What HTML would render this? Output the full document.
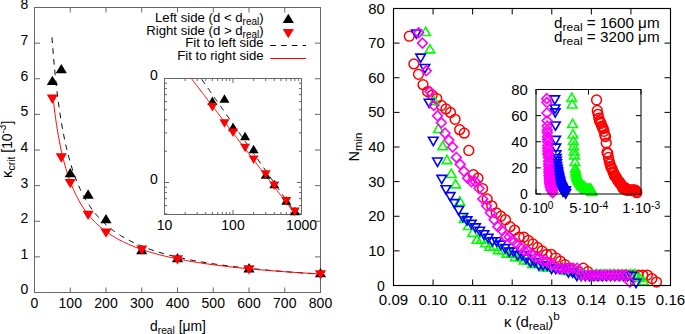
<!DOCTYPE html><html><head><meta charset="utf-8"><style>html,body{margin:0;padding:0;background:#fff;}svg{display:block;}</style></head><body><svg width="685" height="334" viewBox="0 0 685 334" font-family='"Liberation Sans", sans-serif'>
<rect width="685" height="334" fill="#fff"/>
<rect x="34.5" y="7.5" width="286.0" height="285.0" fill="none" stroke="#666" stroke-width="1.0"/>
<line x1="34.50" y1="292.50" x2="34.50" y2="287.50" stroke="#666" stroke-width="1.0" />
<line x1="34.50" y1="7.50" x2="34.50" y2="12.50" stroke="#666" stroke-width="1.0" />
<text x="34.50" y="307.50" font-size="14" text-anchor="middle" fill="#000" >0</text>
<line x1="70.25" y1="292.50" x2="70.25" y2="287.50" stroke="#666" stroke-width="1.0" />
<line x1="70.25" y1="7.50" x2="70.25" y2="12.50" stroke="#666" stroke-width="1.0" />
<text x="70.25" y="307.50" font-size="14" text-anchor="middle" fill="#000" >100</text>
<line x1="106.00" y1="292.50" x2="106.00" y2="287.50" stroke="#666" stroke-width="1.0" />
<line x1="106.00" y1="7.50" x2="106.00" y2="12.50" stroke="#666" stroke-width="1.0" />
<text x="106.00" y="307.50" font-size="14" text-anchor="middle" fill="#000" >200</text>
<line x1="141.75" y1="292.50" x2="141.75" y2="287.50" stroke="#666" stroke-width="1.0" />
<line x1="141.75" y1="7.50" x2="141.75" y2="12.50" stroke="#666" stroke-width="1.0" />
<text x="141.75" y="307.50" font-size="14" text-anchor="middle" fill="#000" >300</text>
<line x1="177.50" y1="292.50" x2="177.50" y2="287.50" stroke="#666" stroke-width="1.0" />
<line x1="177.50" y1="7.50" x2="177.50" y2="12.50" stroke="#666" stroke-width="1.0" />
<text x="177.50" y="307.50" font-size="14" text-anchor="middle" fill="#000" >400</text>
<line x1="213.25" y1="292.50" x2="213.25" y2="287.50" stroke="#666" stroke-width="1.0" />
<line x1="213.25" y1="7.50" x2="213.25" y2="12.50" stroke="#666" stroke-width="1.0" />
<text x="213.25" y="307.50" font-size="14" text-anchor="middle" fill="#000" >500</text>
<line x1="249.00" y1="292.50" x2="249.00" y2="287.50" stroke="#666" stroke-width="1.0" />
<line x1="249.00" y1="7.50" x2="249.00" y2="12.50" stroke="#666" stroke-width="1.0" />
<text x="249.00" y="307.50" font-size="14" text-anchor="middle" fill="#000" >600</text>
<line x1="284.75" y1="292.50" x2="284.75" y2="287.50" stroke="#666" stroke-width="1.0" />
<line x1="284.75" y1="7.50" x2="284.75" y2="12.50" stroke="#666" stroke-width="1.0" />
<text x="284.75" y="307.50" font-size="14" text-anchor="middle" fill="#000" >700</text>
<line x1="320.50" y1="292.50" x2="320.50" y2="287.50" stroke="#666" stroke-width="1.0" />
<line x1="320.50" y1="7.50" x2="320.50" y2="12.50" stroke="#666" stroke-width="1.0" />
<text x="320.50" y="307.50" font-size="14" text-anchor="middle" fill="#000" >800</text>
<line x1="34.50" y1="292.50" x2="40.00" y2="292.50" stroke="#666" stroke-width="1.0" />
<line x1="320.50" y1="292.50" x2="315.00" y2="292.50" stroke="#666" stroke-width="1.0" />
<text x="28.30" y="294.40" font-size="14" text-anchor="end" fill="#000" >0</text>
<line x1="34.50" y1="256.88" x2="40.00" y2="256.88" stroke="#666" stroke-width="1.0" />
<line x1="320.50" y1="256.88" x2="315.00" y2="256.88" stroke="#666" stroke-width="1.0" />
<text x="28.30" y="258.77" font-size="14" text-anchor="end" fill="#000" >1</text>
<line x1="34.50" y1="221.25" x2="40.00" y2="221.25" stroke="#666" stroke-width="1.0" />
<line x1="320.50" y1="221.25" x2="315.00" y2="221.25" stroke="#666" stroke-width="1.0" />
<text x="28.30" y="223.15" font-size="14" text-anchor="end" fill="#000" >2</text>
<line x1="34.50" y1="185.62" x2="40.00" y2="185.62" stroke="#666" stroke-width="1.0" />
<line x1="320.50" y1="185.62" x2="315.00" y2="185.62" stroke="#666" stroke-width="1.0" />
<text x="28.30" y="187.53" font-size="14" text-anchor="end" fill="#000" >3</text>
<line x1="34.50" y1="150.00" x2="40.00" y2="150.00" stroke="#666" stroke-width="1.0" />
<line x1="320.50" y1="150.00" x2="315.00" y2="150.00" stroke="#666" stroke-width="1.0" />
<text x="28.30" y="151.90" font-size="14" text-anchor="end" fill="#000" >4</text>
<line x1="34.50" y1="114.38" x2="40.00" y2="114.38" stroke="#666" stroke-width="1.0" />
<line x1="320.50" y1="114.38" x2="315.00" y2="114.38" stroke="#666" stroke-width="1.0" />
<text x="28.30" y="116.28" font-size="14" text-anchor="end" fill="#000" >5</text>
<line x1="34.50" y1="78.75" x2="40.00" y2="78.75" stroke="#666" stroke-width="1.0" />
<line x1="320.50" y1="78.75" x2="315.00" y2="78.75" stroke="#666" stroke-width="1.0" />
<text x="28.30" y="80.65" font-size="14" text-anchor="end" fill="#000" >6</text>
<line x1="34.50" y1="43.12" x2="40.00" y2="43.12" stroke="#666" stroke-width="1.0" />
<line x1="320.50" y1="43.12" x2="315.00" y2="43.12" stroke="#666" stroke-width="1.0" />
<text x="28.30" y="45.02" font-size="14" text-anchor="end" fill="#000" >7</text>
<line x1="34.50" y1="7.50" x2="40.00" y2="7.50" stroke="#666" stroke-width="1.0" />
<line x1="320.50" y1="7.50" x2="315.00" y2="7.50" stroke="#666" stroke-width="1.0" />
<text x="28.30" y="9.40" font-size="14" text-anchor="end" fill="#000" >8</text>
<text x="150.0" y="330.7" font-size="14.2" textLength="56" lengthAdjust="spacingAndGlyphs">d<tspan font-size="10.5" dy="2.8">real</tspan><tspan dy="-2.8"> [μm]</tspan></text>
<text transform="translate(11.8,178.0) rotate(-90)" font-size="13.8"><tspan font-size="15">κ</tspan><tspan font-size="10.5" dy="2.8">crit</tspan><tspan dy="-2.8"> [10</tspan><tspan font-size="10" dy="-5.5">-3</tspan><tspan dy="5.5">]</tspan></text>
<defs><clipPath id="lc"><rect x="34.5" y="7.5" width="286" height="285"/></clipPath><clipPath id="ic"><rect x="164.5" y="78.5" width="137" height="136"/></clipPath><clipPath id="rc"><rect x="393.5" y="8.5" width="277" height="277"/></clipPath></defs>
<g clip-path="url(#lc)">
<polyline points="51.98,37.47 52.23,40.79 52.48,44.08 52.73,47.32 52.99,50.52 53.25,53.68 53.51,56.79 53.78,59.87 54.05,62.91 54.32,65.90 54.60,68.86 54.89,71.78 55.17,74.66 55.46,77.50 55.76,80.31 56.06,83.08 56.36,85.81 56.67,88.51 56.98,91.17 57.30,93.80 57.62,96.39 57.94,98.95 58.27,101.47 58.61,103.97 58.95,106.43 59.29,108.86 59.64,111.25 59.99,113.62 60.35,115.95 60.72,118.26 61.09,120.53 61.46,122.77 61.84,124.99 62.22,127.17 62.61,129.33 63.01,131.46 63.41,133.56 63.82,135.64 64.23,137.68 64.65,139.70 65.07,141.70 65.50,143.67 65.94,145.61 66.38,147.53 66.83,149.42 67.29,151.28 67.75,153.13 68.22,154.95 68.69,156.74 69.17,158.51 69.66,160.26 70.15,161.99 70.65,163.69 71.16,165.37 71.68,167.03 72.20,168.67 72.73,170.28 73.27,171.88 73.82,173.45 74.37,175.01 74.93,176.54 75.50,178.05 76.08,179.55 76.66,181.02 77.26,182.47 77.86,183.91 78.47,185.33 79.09,186.73 79.71,188.11 80.35,189.47 81.00,190.81 81.65,192.14 82.31,193.45 82.99,194.74 83.67,196.02 84.36,197.28 85.06,198.52 85.77,199.75 86.49,200.96 87.23,202.15 87.97,203.33 88.72,204.49 89.48,205.64 90.26,206.78 91.04,207.89 91.84,209.00 92.64,210.09 93.46,211.16 94.29,212.23 95.13,213.27 95.99,214.31 96.85,215.33 97.73,216.33 98.62,217.33 99.52,218.31 100.44,219.28 101.37,220.23 102.31,221.18 103.26,222.11 104.23,223.03 105.21,223.93 106.20,224.83 107.21,225.71 108.24,226.58 109.27,227.44 110.33,228.29 111.39,229.13 112.48,229.96 113.57,230.77 114.69,231.58 115.81,232.37 116.96,233.16 118.12,233.93 119.30,234.70 120.49,235.45 121.70,236.19 122.93,236.93 124.17,237.65 125.43,238.37 126.71,239.08 128.01,239.77 129.32,240.46 130.66,241.14 132.01,241.81 133.38,242.47 134.78,243.13 136.19,243.77 137.62,244.41 139.07,245.03 140.54,245.65 142.03,246.26 143.55,246.87 145.08,247.46 146.64,248.05 148.22,248.63 149.82,249.20 151.44,249.77 153.08,250.33 154.75,250.88 156.44,251.42 158.16,251.96 159.90,252.48 161.67,253.01 163.46,253.52 165.27,254.03 167.11,254.53 168.98,255.03 170.87,255.52 172.79,256.00 174.73,256.48 176.71,256.95 178.71,257.41 180.74,257.87 182.80,258.32 184.88,258.77 187.00,259.21 189.14,259.64 191.32,260.07 193.53,260.49 195.77,260.91 198.03,261.32 200.34,261.73 202.67,262.13 205.04,262.53 207.44,262.92 209.87,263.30 212.34,263.69 214.84,264.06 217.38,264.43 219.95,264.80 222.56,265.16 225.21,265.52 227.89,265.87 230.61,266.22 233.37,266.56 236.17,266.90 239.01,267.23 241.89,267.56 244.81,267.89 247.76,268.21 250.77,268.53 253.81,268.84 256.90,269.15 260.02,269.45 263.20,269.75 266.42,270.05 269.68,270.34 272.99,270.63 276.35,270.92 279.75,271.20 283.20,271.48 286.70,271.75 290.25,272.02 293.85,272.29 297.50,272.55 301.20,272.81 304.95,273.07 308.76,273.32 312.62,273.57 316.53,273.82 320.50,274.06" fill="none" stroke="#000" stroke-width="1" stroke-dasharray="5.6,5.2"/>
<polyline points="53.45,101.37 53.71,103.59 53.97,105.78 54.23,107.95 54.50,110.09 54.78,112.20 55.05,114.30 55.34,116.36 55.62,118.41 55.91,120.43 56.20,122.42 56.50,124.40 56.80,126.35 57.10,128.28 57.41,130.18 57.73,132.07 58.04,133.93 58.36,135.77 58.69,137.59 59.02,139.38 59.36,141.16 59.70,142.92 60.04,144.65 60.39,146.37 60.74,148.06 61.10,149.74 61.46,151.40 61.83,153.03 62.21,154.65 62.59,156.25 62.97,157.83 63.36,159.39 63.75,160.94 64.15,162.47 64.56,163.97 64.97,165.47 65.38,166.94 65.81,168.40 66.23,169.84 66.67,171.26 67.11,172.67 67.55,174.06 68.00,175.43 68.46,176.79 68.93,178.13 69.40,179.46 69.87,180.77 70.36,182.07 70.85,183.35 71.34,184.62 71.85,185.87 72.36,187.11 72.87,188.33 73.40,189.54 73.93,190.73 74.47,191.91 75.02,193.08 75.57,194.23 76.13,195.37 76.70,196.50 77.28,197.62 77.86,198.72 78.45,199.80 79.05,200.88 79.66,201.94 80.28,202.99 80.90,204.03 81.54,205.06 82.18,206.07 82.83,207.08 83.49,208.07 84.16,209.05 84.84,210.02 85.53,210.97 86.23,211.92 86.93,212.85 87.65,213.78 88.38,214.69 89.11,215.59 89.86,216.49 90.61,217.37 91.38,218.24 92.16,219.10 92.95,219.95 93.75,220.80 94.55,221.63 95.38,222.45 96.21,223.26 97.05,224.07 97.91,224.86 98.77,225.65 99.65,226.42 100.54,227.19 101.44,227.95 102.36,228.69 103.28,229.44 104.22,230.17 105.18,230.89 106.14,231.61 107.12,232.31 108.11,233.01 109.12,233.70 110.14,234.38 111.17,235.06 112.22,235.72 113.28,236.38 114.36,237.03 115.45,237.68 116.56,238.31 117.68,238.94 118.81,239.56 119.97,240.18 121.13,240.79 122.32,241.39 123.52,241.98 124.73,242.56 125.97,243.14 127.22,243.72 128.48,244.28 129.77,244.84 131.07,245.40 132.39,245.94 133.73,246.48 135.08,247.02 136.46,247.54 137.85,248.07 139.26,248.58 140.69,249.09 142.14,249.59 143.62,250.09 145.11,250.58 146.62,251.07 148.15,251.55 149.70,252.03 151.28,252.50 152.87,252.96 154.49,253.42 156.13,253.87 157.79,254.32 159.48,254.76 161.18,255.20 162.92,255.63 164.67,256.06 166.45,256.49 168.25,256.90 170.08,257.32 171.93,257.72 173.81,258.13 175.71,258.53 177.64,258.92 179.60,259.31 181.58,259.70 183.59,260.08 185.63,260.45 187.69,260.82 189.79,261.19 191.91,261.56 194.06,261.91 196.24,262.27 198.45,262.62 200.69,262.97 202.96,263.31 205.26,263.65 207.60,263.98 209.96,264.31 212.36,264.64 214.79,264.96 217.25,265.28 219.75,265.60 222.28,265.91 224.85,266.22 227.45,266.53 230.08,266.83 232.76,267.12 235.46,267.42 238.21,267.71 240.99,268.00 243.82,268.28 246.68,268.56 249.58,268.84 252.51,269.12 255.49,269.39 258.51,269.65 261.57,269.92 264.68,270.18 267.82,270.44 271.01,270.70 274.24,270.95 277.52,271.20 280.84,271.45 284.20,271.69 287.62,271.93 291.07,272.17 294.58,272.41 298.13,272.64 301.74,272.87 305.39,273.10 309.09,273.32 312.84,273.55 316.64,273.77 320.50,273.98" fill="none" stroke="#f00" stroke-width="1"/>
</g>
<path d="M52.38,75.69L57.98,85.09L46.77,85.09Z" fill="#000"/>
<path d="M61.31,63.93L66.91,73.33L55.71,73.33Z" fill="#000"/>
<path d="M70.25,167.96L75.85,177.36L64.65,177.36Z" fill="#000"/>
<path d="M88.12,189.33L93.72,198.73L82.53,198.73Z" fill="#000"/>
<path d="M106.00,213.91L111.60,223.31L100.40,223.31Z" fill="#000"/>
<path d="M141.75,244.91L147.35,254.31L136.15,254.31Z" fill="#000"/>
<path d="M177.50,252.92L183.10,262.32L171.90,262.32Z" fill="#000"/>
<path d="M249.00,263.08L254.60,272.48L243.40,272.48Z" fill="#000"/>
<path d="M320.50,267.89L326.10,277.29L314.90,277.29Z" fill="#000"/>
<path d="M46.77,94.50L57.98,94.50L52.38,103.90Z" fill="#f00"/>
<path d="M55.71,153.28L66.91,153.28L61.31,162.68Z" fill="#f00"/>
<path d="M64.65,178.93L75.85,178.93L70.25,188.33Z" fill="#f00"/>
<path d="M82.53,210.64L93.72,210.64L88.12,220.04Z" fill="#f00"/>
<path d="M100.40,228.45L111.60,228.45L106.00,237.85Z" fill="#f00"/>
<path d="M136.15,245.55L147.35,245.55L141.75,254.95Z" fill="#f00"/>
<path d="M171.90,255.17L183.10,255.17L177.50,264.57Z" fill="#f00"/>
<path d="M243.40,265.14L254.60,265.14L249.00,274.54Z" fill="#f00"/>
<path d="M314.90,270.13L326.10,270.13L320.50,279.53Z" fill="#f00"/>
<text x="263.70" y="22.10" font-size="13.2" text-anchor="end" fill="#000" >Left side (d &lt; d<tspan font-size="10" dy="2.8">real</tspan><tspan dy="-2.8">)</tspan></text>
<text x="263.70" y="34.90" font-size="13.2" text-anchor="end" fill="#000" >Right side (d &gt; d<tspan font-size="10" dy="2.8">real</tspan><tspan dy="-2.8">)</tspan></text>
<text x="263.70" y="47.30" font-size="13.2" text-anchor="end" fill="#000" >Fit to left side</text>
<text x="263.70" y="60.10" font-size="13.2" text-anchor="end" fill="#000" >Fit to right side</text>
<path d="M288.30,13.70L293.90,23.10L282.70,23.10Z" fill="#000"/>
<path d="M282.70,28.90L293.90,28.90L288.30,38.30Z" fill="#f00"/>
<line x1="270.20" y1="45.50" x2="306.10" y2="45.50" stroke="#000" stroke-width="1" stroke-dasharray="5.6,5.2"/>
<line x1="270.20" y1="58.50" x2="306.10" y2="58.50" stroke="#f00" stroke-width="1" />
<rect x="164.5" y="78.5" width="137.0" height="136.0" fill="#fff" stroke="none"/>
<rect x="164.5" y="78.5" width="137.0" height="136.0" fill="none" stroke="#666" stroke-width="1.0"/>
<line x1="164.50" y1="214.50" x2="164.50" y2="210.00" stroke="#666" stroke-width="1.0" />
<line x1="164.50" y1="78.50" x2="164.50" y2="83.00" stroke="#666" stroke-width="1.0" />
<line x1="185.12" y1="214.50" x2="185.12" y2="212.00" stroke="#666" stroke-width="1.0" />
<line x1="185.12" y1="78.50" x2="185.12" y2="81.00" stroke="#666" stroke-width="1.0" />
<line x1="197.18" y1="214.50" x2="197.18" y2="212.00" stroke="#666" stroke-width="1.0" />
<line x1="197.18" y1="78.50" x2="197.18" y2="81.00" stroke="#666" stroke-width="1.0" />
<line x1="205.74" y1="214.50" x2="205.74" y2="212.00" stroke="#666" stroke-width="1.0" />
<line x1="205.74" y1="78.50" x2="205.74" y2="81.00" stroke="#666" stroke-width="1.0" />
<line x1="212.38" y1="214.50" x2="212.38" y2="212.00" stroke="#666" stroke-width="1.0" />
<line x1="212.38" y1="78.50" x2="212.38" y2="81.00" stroke="#666" stroke-width="1.0" />
<line x1="217.80" y1="214.50" x2="217.80" y2="212.00" stroke="#666" stroke-width="1.0" />
<line x1="217.80" y1="78.50" x2="217.80" y2="81.00" stroke="#666" stroke-width="1.0" />
<line x1="222.39" y1="214.50" x2="222.39" y2="212.00" stroke="#666" stroke-width="1.0" />
<line x1="222.39" y1="78.50" x2="222.39" y2="81.00" stroke="#666" stroke-width="1.0" />
<line x1="226.36" y1="214.50" x2="226.36" y2="212.00" stroke="#666" stroke-width="1.0" />
<line x1="226.36" y1="78.50" x2="226.36" y2="81.00" stroke="#666" stroke-width="1.0" />
<line x1="229.87" y1="214.50" x2="229.87" y2="212.00" stroke="#666" stroke-width="1.0" />
<line x1="229.87" y1="78.50" x2="229.87" y2="81.00" stroke="#666" stroke-width="1.0" />
<line x1="233.00" y1="214.50" x2="233.00" y2="210.00" stroke="#666" stroke-width="1.0" />
<line x1="233.00" y1="78.50" x2="233.00" y2="83.00" stroke="#666" stroke-width="1.0" />
<line x1="253.62" y1="214.50" x2="253.62" y2="212.00" stroke="#666" stroke-width="1.0" />
<line x1="253.62" y1="78.50" x2="253.62" y2="81.00" stroke="#666" stroke-width="1.0" />
<line x1="265.68" y1="214.50" x2="265.68" y2="212.00" stroke="#666" stroke-width="1.0" />
<line x1="265.68" y1="78.50" x2="265.68" y2="81.00" stroke="#666" stroke-width="1.0" />
<line x1="274.24" y1="214.50" x2="274.24" y2="212.00" stroke="#666" stroke-width="1.0" />
<line x1="274.24" y1="78.50" x2="274.24" y2="81.00" stroke="#666" stroke-width="1.0" />
<line x1="280.88" y1="214.50" x2="280.88" y2="212.00" stroke="#666" stroke-width="1.0" />
<line x1="280.88" y1="78.50" x2="280.88" y2="81.00" stroke="#666" stroke-width="1.0" />
<line x1="286.30" y1="214.50" x2="286.30" y2="212.00" stroke="#666" stroke-width="1.0" />
<line x1="286.30" y1="78.50" x2="286.30" y2="81.00" stroke="#666" stroke-width="1.0" />
<line x1="290.89" y1="214.50" x2="290.89" y2="212.00" stroke="#666" stroke-width="1.0" />
<line x1="290.89" y1="78.50" x2="290.89" y2="81.00" stroke="#666" stroke-width="1.0" />
<line x1="294.86" y1="214.50" x2="294.86" y2="212.00" stroke="#666" stroke-width="1.0" />
<line x1="294.86" y1="78.50" x2="294.86" y2="81.00" stroke="#666" stroke-width="1.0" />
<line x1="298.37" y1="214.50" x2="298.37" y2="212.00" stroke="#666" stroke-width="1.0" />
<line x1="298.37" y1="78.50" x2="298.37" y2="81.00" stroke="#666" stroke-width="1.0" />
<line x1="301.50" y1="214.50" x2="301.50" y2="210.00" stroke="#666" stroke-width="1.0" />
<line x1="301.50" y1="78.50" x2="301.50" y2="83.00" stroke="#666" stroke-width="1.0" />
<line x1="164.50" y1="213.81" x2="167.00" y2="213.81" stroke="#666" stroke-width="1.0" />
<line x1="301.50" y1="213.81" x2="299.00" y2="213.81" stroke="#666" stroke-width="1.0" />
<line x1="164.50" y1="205.57" x2="167.00" y2="205.57" stroke="#666" stroke-width="1.0" />
<line x1="301.50" y1="205.57" x2="299.00" y2="205.57" stroke="#666" stroke-width="1.0" />
<line x1="164.50" y1="198.61" x2="167.00" y2="198.61" stroke="#666" stroke-width="1.0" />
<line x1="301.50" y1="198.61" x2="299.00" y2="198.61" stroke="#666" stroke-width="1.0" />
<line x1="164.50" y1="192.58" x2="167.00" y2="192.58" stroke="#666" stroke-width="1.0" />
<line x1="301.50" y1="192.58" x2="299.00" y2="192.58" stroke="#666" stroke-width="1.0" />
<line x1="164.50" y1="187.26" x2="167.00" y2="187.26" stroke="#666" stroke-width="1.0" />
<line x1="301.50" y1="187.26" x2="299.00" y2="187.26" stroke="#666" stroke-width="1.0" />
<line x1="164.50" y1="182.50" x2="169.00" y2="182.50" stroke="#666" stroke-width="1.0" />
<line x1="301.50" y1="182.50" x2="297.00" y2="182.50" stroke="#666" stroke-width="1.0" />
<line x1="164.50" y1="151.19" x2="167.00" y2="151.19" stroke="#666" stroke-width="1.0" />
<line x1="301.50" y1="151.19" x2="299.00" y2="151.19" stroke="#666" stroke-width="1.0" />
<line x1="164.50" y1="132.88" x2="167.00" y2="132.88" stroke="#666" stroke-width="1.0" />
<line x1="301.50" y1="132.88" x2="299.00" y2="132.88" stroke="#666" stroke-width="1.0" />
<line x1="164.50" y1="119.89" x2="167.00" y2="119.89" stroke="#666" stroke-width="1.0" />
<line x1="301.50" y1="119.89" x2="299.00" y2="119.89" stroke="#666" stroke-width="1.0" />
<line x1="164.50" y1="109.81" x2="167.00" y2="109.81" stroke="#666" stroke-width="1.0" />
<line x1="301.50" y1="109.81" x2="299.00" y2="109.81" stroke="#666" stroke-width="1.0" />
<line x1="164.50" y1="101.57" x2="167.00" y2="101.57" stroke="#666" stroke-width="1.0" />
<line x1="301.50" y1="101.57" x2="299.00" y2="101.57" stroke="#666" stroke-width="1.0" />
<line x1="164.50" y1="94.61" x2="167.00" y2="94.61" stroke="#666" stroke-width="1.0" />
<line x1="301.50" y1="94.61" x2="299.00" y2="94.61" stroke="#666" stroke-width="1.0" />
<line x1="164.50" y1="88.58" x2="167.00" y2="88.58" stroke="#666" stroke-width="1.0" />
<line x1="301.50" y1="88.58" x2="299.00" y2="88.58" stroke="#666" stroke-width="1.0" />
<line x1="164.50" y1="83.26" x2="167.00" y2="83.26" stroke="#666" stroke-width="1.0" />
<line x1="301.50" y1="83.26" x2="299.00" y2="83.26" stroke="#666" stroke-width="1.0" />
<line x1="164.50" y1="78.50" x2="169.00" y2="78.50" stroke="#666" stroke-width="1.0" />
<line x1="301.50" y1="78.50" x2="297.00" y2="78.50" stroke="#666" stroke-width="1.0" />
<text x="164.50" y="229.90" font-size="14" text-anchor="middle" fill="#000" >10</text>
<text x="233.00" y="229.90" font-size="14" text-anchor="middle" fill="#000" >100</text>
<text x="301.50" y="229.90" font-size="14" text-anchor="middle" fill="#000" >1000</text>
<text x="157.80" y="80.30" font-size="14" text-anchor="end" fill="#000" >0</text>
<text x="157.80" y="184.30" font-size="14" text-anchor="end" fill="#000" >0</text>
<g clip-path="url(#ic)">
<polyline points="164.50,26.21 165.19,27.19 165.87,28.16 166.56,29.14 167.24,30.12 167.93,31.10 168.61,32.08 169.30,33.05 169.98,34.03 170.66,35.01 171.35,35.99 172.03,36.96 172.72,37.94 173.41,38.92 174.09,39.90 174.78,40.87 175.46,41.85 176.14,42.83 176.83,43.81 177.51,44.78 178.20,45.76 178.88,46.74 179.57,47.72 180.25,48.69 180.94,49.67 181.62,50.65 182.31,51.63 183.00,52.60 183.68,53.58 184.37,54.56 185.05,55.54 185.74,56.52 186.42,57.49 187.11,58.47 187.79,59.45 188.47,60.43 189.16,61.40 189.84,62.38 190.53,63.36 191.22,64.34 191.90,65.31 192.58,66.29 193.27,67.27 193.95,68.25 194.64,69.22 195.32,70.20 196.01,71.18 196.69,72.16 197.38,73.13 198.06,74.11 198.75,75.09 199.44,76.07 200.12,77.04 200.81,78.02 201.49,79.00 202.18,79.98 202.86,80.96 203.55,81.93 204.23,82.91 204.92,83.89 205.60,84.87 206.28,85.84 206.97,86.82 207.66,87.80 208.34,88.78 209.02,89.75 209.71,90.73 210.39,91.71 211.08,92.69 211.76,93.66 212.45,94.64 213.13,95.62 213.82,96.60 214.50,97.57 215.19,98.55 215.88,99.53 216.56,100.51 217.25,101.48 217.93,102.46 218.62,103.44 219.30,104.42 219.99,105.40 220.67,106.37 221.36,107.35 222.04,108.33 222.73,109.31 223.41,110.28 224.09,111.26 224.78,112.24 225.47,113.22 226.15,114.19 226.84,115.17 227.52,116.15 228.21,117.13 228.89,118.10 229.57,119.08 230.26,120.06 230.94,121.04 231.63,122.01 232.31,122.99 233.00,123.97 233.69,124.95 234.37,125.92 235.06,126.90 235.74,127.88 236.42,128.86 237.11,129.84 237.80,130.81 238.48,131.79 239.17,132.77 239.85,133.75 240.54,134.72 241.22,135.70 241.90,136.68 242.59,137.66 243.27,138.63 243.96,139.61 244.64,140.59 245.33,141.57 246.01,142.54 246.70,143.52 247.38,144.50 248.07,145.48 248.75,146.45 249.44,147.43 250.12,148.41 250.81,149.39 251.50,150.36 252.18,151.34 252.87,152.32 253.55,153.30 254.24,154.28 254.92,155.25 255.61,156.23 256.29,157.21 256.98,158.19 257.66,159.16 258.35,160.14 259.03,161.12 259.71,162.10 260.40,163.07 261.09,164.05 261.77,165.03 262.46,166.01 263.14,166.98 263.83,167.96 264.51,168.94 265.19,169.92 265.88,170.89 266.56,171.87 267.25,172.85 267.94,173.83 268.62,174.80 269.31,175.78 269.99,176.76 270.67,177.74 271.36,178.72 272.04,179.69 272.73,180.67 273.42,181.65 274.10,182.63 274.78,183.60 275.47,184.58 276.15,185.56 276.84,186.54 277.52,187.51 278.21,188.49 278.89,189.47 279.58,190.45 280.26,191.42 280.95,192.40 281.63,193.38 282.32,194.36 283.00,195.33 283.69,196.31 284.38,197.29 285.06,198.27 285.75,199.24 286.43,200.22 287.12,201.20 287.80,202.18 288.49,203.16 289.17,204.13 289.86,205.11 290.54,206.09 291.23,207.07 291.91,208.04 292.60,209.02 293.28,210.00 293.97,210.98 294.65,211.95 295.34,212.93 296.02,213.91 296.70,214.89 297.39,215.86 298.08,216.84 298.76,217.82 299.45,218.80 300.13,219.77 300.82,220.75 301.50,221.73" fill="none" stroke="#000" stroke-width="1" stroke-dasharray="5.6,5.2"/>
<polyline points="164.50,43.45 165.19,44.35 165.87,45.24 166.56,46.14 167.24,47.03 167.93,47.93 168.61,48.82 169.30,49.71 169.98,50.61 170.66,51.50 171.35,52.40 172.03,53.29 172.72,54.19 173.41,55.08 174.09,55.98 174.78,56.87 175.46,57.76 176.14,58.66 176.83,59.55 177.51,60.45 178.20,61.34 178.88,62.24 179.57,63.13 180.25,64.03 180.94,64.92 181.62,65.81 182.31,66.71 183.00,67.60 183.68,68.50 184.37,69.39 185.05,70.29 185.74,71.18 186.42,72.07 187.11,72.97 187.79,73.86 188.47,74.76 189.16,75.65 189.84,76.55 190.53,77.44 191.22,78.34 191.90,79.23 192.58,80.12 193.27,81.02 193.95,81.91 194.64,82.81 195.32,83.70 196.01,84.60 196.69,85.49 197.38,86.39 198.06,87.28 198.75,88.17 199.44,89.07 200.12,89.96 200.81,90.86 201.49,91.75 202.18,92.65 202.86,93.54 203.55,94.43 204.23,95.33 204.92,96.22 205.60,97.12 206.28,98.01 206.97,98.91 207.66,99.80 208.34,100.70 209.02,101.59 209.71,102.48 210.39,103.38 211.08,104.27 211.76,105.17 212.45,106.06 213.13,106.96 213.82,107.85 214.50,108.75 215.19,109.64 215.88,110.53 216.56,111.43 217.25,112.32 217.93,113.22 218.62,114.11 219.30,115.01 219.99,115.90 220.67,116.79 221.36,117.69 222.04,118.58 222.73,119.48 223.41,120.37 224.09,121.27 224.78,122.16 225.47,123.06 226.15,123.95 226.84,124.84 227.52,125.74 228.21,126.63 228.89,127.53 229.57,128.42 230.26,129.32 230.94,130.21 231.63,131.11 232.31,132.00 233.00,132.89 233.69,133.79 234.37,134.68 235.06,135.58 235.74,136.47 236.42,137.37 237.11,138.26 237.80,139.15 238.48,140.05 239.17,140.94 239.85,141.84 240.54,142.73 241.22,143.63 241.90,144.52 242.59,145.42 243.27,146.31 243.96,147.20 244.64,148.10 245.33,148.99 246.01,149.89 246.70,150.78 247.38,151.68 248.07,152.57 248.75,153.47 249.44,154.36 250.12,155.25 250.81,156.15 251.50,157.04 252.18,157.94 252.87,158.83 253.55,159.73 254.24,160.62 254.92,161.51 255.61,162.41 256.29,163.30 256.98,164.20 257.66,165.09 258.35,165.99 259.03,166.88 259.71,167.78 260.40,168.67 261.09,169.56 261.77,170.46 262.46,171.35 263.14,172.25 263.83,173.14 264.51,174.04 265.19,174.93 265.88,175.83 266.56,176.72 267.25,177.61 267.94,178.51 268.62,179.40 269.31,180.30 269.99,181.19 270.67,182.09 271.36,182.98 272.04,183.87 272.73,184.77 273.42,185.66 274.10,186.56 274.78,187.45 275.47,188.35 276.15,189.24 276.84,190.14 277.52,191.03 278.21,191.92 278.89,192.82 279.58,193.71 280.26,194.61 280.95,195.50 281.63,196.40 282.32,197.29 283.00,198.19 283.69,199.08 284.38,199.97 285.06,200.87 285.75,201.76 286.43,202.66 287.12,203.55 287.80,204.45 288.49,205.34 289.17,206.23 289.86,207.13 290.54,208.02 291.23,208.92 291.91,209.81 292.60,210.71 293.28,211.60 293.97,212.50 294.65,213.39 295.34,214.28 296.02,215.18 296.70,216.07 297.39,216.97 298.08,217.86 298.76,218.76 299.45,219.65 300.13,220.55 300.82,221.44 301.50,222.33" fill="none" stroke="#f00" stroke-width="1"/>
</g>
<path d="M212.38,96.59L217.38,105.09L207.38,105.09Z" fill="#000"/>
<path d="M224.44,94.13L229.44,102.63L219.44,102.63Z" fill="#000"/>
<path d="M233.00,122.63L238.00,131.13L228.00,131.13Z" fill="#000"/>
<path d="M245.06,131.64L250.06,140.14L240.06,140.14Z" fill="#000"/>
<path d="M253.62,144.85L258.62,153.35L248.62,153.35Z" fill="#000"/>
<path d="M265.68,170.13L270.68,178.63L260.68,178.63Z" fill="#000"/>
<path d="M274.24,179.87L279.24,188.37L269.24,188.37Z" fill="#000"/>
<path d="M286.30,196.29L291.30,204.79L281.30,204.79Z" fill="#000"/>
<path d="M294.86,206.81L299.86,215.31L289.86,215.31Z" fill="#000"/>
<path d="M207.38,102.92L217.38,102.92L212.38,111.42Z" fill="#f00"/>
<path d="M219.44,119.13L229.44,119.13L224.44,127.63Z" fill="#f00"/>
<path d="M228.00,128.57L238.00,128.57L233.00,137.07Z" fill="#f00"/>
<path d="M240.06,143.85L250.06,143.85L245.06,152.35Z" fill="#f00"/>
<path d="M248.62,155.44L258.62,155.44L253.62,163.94Z" fill="#f00"/>
<path d="M260.68,170.32L270.68,170.32L265.68,178.82Z" fill="#f00"/>
<path d="M269.24,181.51L279.24,181.51L274.24,190.01Z" fill="#f00"/>
<path d="M281.30,197.09L291.30,197.09L286.30,205.59Z" fill="#f00"/>
<path d="M289.86,207.50L299.86,207.50L294.86,216.00Z" fill="#f00"/>
<line x1="393.50" y1="285.50" x2="393.50" y2="279.50" stroke="#000" stroke-width="1.0" />
<line x1="393.50" y1="8.50" x2="393.50" y2="14.50" stroke="#000" stroke-width="1.0" />
<text x="393.50" y="305.00" font-size="14" text-anchor="middle" fill="#000" textLength="29.3" lengthAdjust="spacingAndGlyphs">0.09</text>
<line x1="433.07" y1="285.50" x2="433.07" y2="279.50" stroke="#000" stroke-width="1.0" />
<line x1="433.07" y1="8.50" x2="433.07" y2="14.50" stroke="#000" stroke-width="1.0" />
<text x="433.07" y="305.00" font-size="14" text-anchor="middle" fill="#000" textLength="29.3" lengthAdjust="spacingAndGlyphs">0.10</text>
<line x1="472.64" y1="285.50" x2="472.64" y2="279.50" stroke="#000" stroke-width="1.0" />
<line x1="472.64" y1="8.50" x2="472.64" y2="14.50" stroke="#000" stroke-width="1.0" />
<text x="472.64" y="305.00" font-size="14" text-anchor="middle" fill="#000" textLength="29.3" lengthAdjust="spacingAndGlyphs">0.11</text>
<line x1="512.21" y1="285.50" x2="512.21" y2="279.50" stroke="#000" stroke-width="1.0" />
<line x1="512.21" y1="8.50" x2="512.21" y2="14.50" stroke="#000" stroke-width="1.0" />
<text x="512.21" y="305.00" font-size="14" text-anchor="middle" fill="#000" textLength="29.3" lengthAdjust="spacingAndGlyphs">0.12</text>
<line x1="551.79" y1="285.50" x2="551.79" y2="279.50" stroke="#000" stroke-width="1.0" />
<line x1="551.79" y1="8.50" x2="551.79" y2="14.50" stroke="#000" stroke-width="1.0" />
<text x="551.79" y="305.00" font-size="14" text-anchor="middle" fill="#000" textLength="29.3" lengthAdjust="spacingAndGlyphs">0.13</text>
<line x1="591.36" y1="285.50" x2="591.36" y2="279.50" stroke="#000" stroke-width="1.0" />
<line x1="591.36" y1="8.50" x2="591.36" y2="14.50" stroke="#000" stroke-width="1.0" />
<text x="591.36" y="305.00" font-size="14" text-anchor="middle" fill="#000" textLength="29.3" lengthAdjust="spacingAndGlyphs">0.14</text>
<line x1="630.93" y1="285.50" x2="630.93" y2="279.50" stroke="#000" stroke-width="1.0" />
<line x1="630.93" y1="8.50" x2="630.93" y2="14.50" stroke="#000" stroke-width="1.0" />
<text x="630.93" y="305.00" font-size="14" text-anchor="middle" fill="#000" textLength="29.3" lengthAdjust="spacingAndGlyphs">0.15</text>
<line x1="670.50" y1="285.50" x2="670.50" y2="279.50" stroke="#000" stroke-width="1.0" />
<line x1="670.50" y1="8.50" x2="670.50" y2="14.50" stroke="#000" stroke-width="1.0" />
<text x="670.50" y="305.00" font-size="14" text-anchor="middle" fill="#000" textLength="29.3" lengthAdjust="spacingAndGlyphs">0.16</text>
<line x1="393.50" y1="285.50" x2="399.50" y2="285.50" stroke="#000" stroke-width="1.0" />
<line x1="670.50" y1="285.50" x2="664.50" y2="285.50" stroke="#000" stroke-width="1.0" />
<text x="384.80" y="290.50" font-size="14" text-anchor="end" fill="#000" >0</text>
<line x1="393.50" y1="250.88" x2="399.50" y2="250.88" stroke="#000" stroke-width="1.0" />
<line x1="670.50" y1="250.88" x2="664.50" y2="250.88" stroke="#000" stroke-width="1.0" />
<text x="384.80" y="255.88" font-size="14" text-anchor="end" fill="#000" textLength="16.6" lengthAdjust="spacingAndGlyphs">10</text>
<line x1="393.50" y1="216.25" x2="399.50" y2="216.25" stroke="#000" stroke-width="1.0" />
<line x1="670.50" y1="216.25" x2="664.50" y2="216.25" stroke="#000" stroke-width="1.0" />
<text x="384.80" y="221.25" font-size="14" text-anchor="end" fill="#000" textLength="16.6" lengthAdjust="spacingAndGlyphs">20</text>
<line x1="393.50" y1="181.62" x2="399.50" y2="181.62" stroke="#000" stroke-width="1.0" />
<line x1="670.50" y1="181.62" x2="664.50" y2="181.62" stroke="#000" stroke-width="1.0" />
<text x="384.80" y="186.62" font-size="14" text-anchor="end" fill="#000" textLength="16.6" lengthAdjust="spacingAndGlyphs">30</text>
<line x1="393.50" y1="147.00" x2="399.50" y2="147.00" stroke="#000" stroke-width="1.0" />
<line x1="670.50" y1="147.00" x2="664.50" y2="147.00" stroke="#000" stroke-width="1.0" />
<text x="384.80" y="152.00" font-size="14" text-anchor="end" fill="#000" textLength="16.6" lengthAdjust="spacingAndGlyphs">40</text>
<line x1="393.50" y1="112.38" x2="399.50" y2="112.38" stroke="#000" stroke-width="1.0" />
<line x1="670.50" y1="112.38" x2="664.50" y2="112.38" stroke="#000" stroke-width="1.0" />
<text x="384.80" y="117.38" font-size="14" text-anchor="end" fill="#000" textLength="16.6" lengthAdjust="spacingAndGlyphs">50</text>
<line x1="393.50" y1="77.75" x2="399.50" y2="77.75" stroke="#000" stroke-width="1.0" />
<line x1="670.50" y1="77.75" x2="664.50" y2="77.75" stroke="#000" stroke-width="1.0" />
<text x="384.80" y="82.75" font-size="14" text-anchor="end" fill="#000" textLength="16.6" lengthAdjust="spacingAndGlyphs">60</text>
<line x1="393.50" y1="43.12" x2="399.50" y2="43.12" stroke="#000" stroke-width="1.0" />
<line x1="670.50" y1="43.12" x2="664.50" y2="43.12" stroke="#000" stroke-width="1.0" />
<text x="384.80" y="48.12" font-size="14" text-anchor="end" fill="#000" textLength="16.6" lengthAdjust="spacingAndGlyphs">70</text>
<line x1="393.50" y1="8.50" x2="399.50" y2="8.50" stroke="#000" stroke-width="1.0" />
<line x1="670.50" y1="8.50" x2="664.50" y2="8.50" stroke="#000" stroke-width="1.0" />
<text x="384.80" y="13.50" font-size="14" text-anchor="end" fill="#000" textLength="16.6" lengthAdjust="spacingAndGlyphs">80</text>
<text x="504.0" y="326.6" font-size="14" textLength="55.8" lengthAdjust="spacingAndGlyphs">κ (d<tspan font-size="11" dy="3">real</tspan><tspan dy="-3">)</tspan><tspan font-size="11" dy="-7">b</tspan></text>
<text transform="translate(358.8,161.6) rotate(-90)" font-size="14" textLength="29" lengthAdjust="spacingAndGlyphs">N<tspan font-size="11" dy="3">min</tspan></text>
<text x="659.60" y="28.00" font-size="14" text-anchor="end" fill="#000" textLength="105.5" lengthAdjust="spacingAndGlyphs">d<tspan font-size="11" dy="3">real</tspan><tspan dy="-3"> = 1600 μm</tspan></text>
<text x="659.60" y="42.30" font-size="14" text-anchor="end" fill="#000" textLength="105.5" lengthAdjust="spacingAndGlyphs">d<tspan font-size="11" dy="3">real</tspan><tspan dy="-3"> = 3200 μm</tspan></text>
<circle cx="409.30" cy="36.20" r="4.9" fill="none" stroke="#f00" stroke-width="1.5"/>
<circle cx="413.88" cy="63.90" r="4.9" fill="none" stroke="#f00" stroke-width="1.5"/>
<circle cx="418.46" cy="74.29" r="4.9" fill="none" stroke="#f00" stroke-width="1.5"/>
<circle cx="423.03" cy="84.68" r="4.9" fill="none" stroke="#f00" stroke-width="1.5"/>
<circle cx="427.61" cy="91.60" r="4.9" fill="none" stroke="#f00" stroke-width="1.5"/>
<circle cx="432.19" cy="95.06" r="4.9" fill="none" stroke="#f00" stroke-width="1.5"/>
<circle cx="436.77" cy="98.53" r="4.9" fill="none" stroke="#f00" stroke-width="1.5"/>
<circle cx="441.35" cy="105.45" r="4.9" fill="none" stroke="#f00" stroke-width="1.5"/>
<circle cx="445.92" cy="108.91" r="4.9" fill="none" stroke="#f00" stroke-width="1.5"/>
<circle cx="450.50" cy="112.38" r="4.9" fill="none" stroke="#f00" stroke-width="1.5"/>
<circle cx="455.08" cy="119.30" r="4.9" fill="none" stroke="#f00" stroke-width="1.5"/>
<circle cx="459.66" cy="129.69" r="4.9" fill="none" stroke="#f00" stroke-width="1.5"/>
<circle cx="464.24" cy="133.15" r="4.9" fill="none" stroke="#f00" stroke-width="1.5"/>
<circle cx="468.81" cy="150.46" r="4.9" fill="none" stroke="#f00" stroke-width="1.5"/>
<circle cx="473.39" cy="174.70" r="4.9" fill="none" stroke="#f00" stroke-width="1.5"/>
<circle cx="477.97" cy="178.16" r="4.9" fill="none" stroke="#f00" stroke-width="1.5"/>
<circle cx="482.55" cy="188.55" r="4.9" fill="none" stroke="#f00" stroke-width="1.5"/>
<circle cx="487.13" cy="198.94" r="4.9" fill="none" stroke="#f00" stroke-width="1.5"/>
<circle cx="491.70" cy="205.86" r="4.9" fill="none" stroke="#f00" stroke-width="1.5"/>
<circle cx="496.28" cy="212.79" r="4.9" fill="none" stroke="#f00" stroke-width="1.5"/>
<circle cx="500.86" cy="216.25" r="4.9" fill="none" stroke="#f00" stroke-width="1.5"/>
<circle cx="505.44" cy="219.71" r="4.9" fill="none" stroke="#f00" stroke-width="1.5"/>
<circle cx="510.02" cy="226.64" r="4.9" fill="none" stroke="#f00" stroke-width="1.5"/>
<circle cx="514.59" cy="230.10" r="4.9" fill="none" stroke="#f00" stroke-width="1.5"/>
<circle cx="519.17" cy="237.03" r="4.9" fill="none" stroke="#f00" stroke-width="1.5"/>
<circle cx="523.75" cy="237.03" r="4.9" fill="none" stroke="#f00" stroke-width="1.5"/>
<circle cx="528.33" cy="240.49" r="4.9" fill="none" stroke="#f00" stroke-width="1.5"/>
<circle cx="532.91" cy="243.95" r="4.9" fill="none" stroke="#f00" stroke-width="1.5"/>
<circle cx="537.48" cy="247.41" r="4.9" fill="none" stroke="#f00" stroke-width="1.5"/>
<circle cx="542.06" cy="250.88" r="4.9" fill="none" stroke="#f00" stroke-width="1.5"/>
<circle cx="546.64" cy="254.34" r="4.9" fill="none" stroke="#f00" stroke-width="1.5"/>
<circle cx="551.22" cy="254.34" r="4.9" fill="none" stroke="#f00" stroke-width="1.5"/>
<circle cx="555.80" cy="257.80" r="4.9" fill="none" stroke="#f00" stroke-width="1.5"/>
<circle cx="560.37" cy="261.26" r="4.9" fill="none" stroke="#f00" stroke-width="1.5"/>
<circle cx="564.95" cy="264.73" r="4.9" fill="none" stroke="#f00" stroke-width="1.5"/>
<circle cx="569.53" cy="268.19" r="4.9" fill="none" stroke="#f00" stroke-width="1.5"/>
<circle cx="574.11" cy="271.65" r="4.9" fill="none" stroke="#f00" stroke-width="1.5"/>
<circle cx="578.69" cy="271.65" r="4.9" fill="none" stroke="#f00" stroke-width="1.5"/>
<circle cx="583.26" cy="268.19" r="4.9" fill="none" stroke="#f00" stroke-width="1.5"/>
<circle cx="587.84" cy="271.65" r="4.9" fill="none" stroke="#f00" stroke-width="1.5"/>
<circle cx="592.42" cy="275.11" r="4.9" fill="none" stroke="#f00" stroke-width="1.5"/>
<circle cx="597.00" cy="275.11" r="4.9" fill="none" stroke="#f00" stroke-width="1.5"/>
<circle cx="601.58" cy="275.11" r="4.9" fill="none" stroke="#f00" stroke-width="1.5"/>
<circle cx="606.15" cy="275.11" r="4.9" fill="none" stroke="#f00" stroke-width="1.5"/>
<circle cx="610.73" cy="275.11" r="4.9" fill="none" stroke="#f00" stroke-width="1.5"/>
<circle cx="615.31" cy="275.11" r="4.9" fill="none" stroke="#f00" stroke-width="1.5"/>
<circle cx="619.89" cy="275.11" r="4.9" fill="none" stroke="#f00" stroke-width="1.5"/>
<circle cx="624.47" cy="275.11" r="4.9" fill="none" stroke="#f00" stroke-width="1.5"/>
<circle cx="629.04" cy="275.11" r="4.9" fill="none" stroke="#f00" stroke-width="1.5"/>
<circle cx="633.62" cy="275.11" r="4.9" fill="none" stroke="#f00" stroke-width="1.5"/>
<circle cx="638.20" cy="275.11" r="4.9" fill="none" stroke="#f00" stroke-width="1.5"/>
<circle cx="642.78" cy="275.11" r="4.9" fill="none" stroke="#f00" stroke-width="1.5"/>
<circle cx="647.36" cy="275.11" r="4.9" fill="none" stroke="#f00" stroke-width="1.5"/>
<circle cx="651.93" cy="278.57" r="4.9" fill="none" stroke="#f00" stroke-width="1.5"/>
<circle cx="656.51" cy="282.04" r="4.9" fill="none" stroke="#f00" stroke-width="1.5"/>
<path d="M425.60,27.24L430.40,35.54L420.80,35.54Z" fill="none" stroke="#0f0" stroke-width="1.6"/>
<path d="M429.88,44.55L434.68,52.85L425.07,52.85Z" fill="none" stroke="#0f0" stroke-width="1.6"/>
<path d="M434.15,96.49L438.95,104.79L429.35,104.79Z" fill="none" stroke="#0f0" stroke-width="1.6"/>
<path d="M438.43,124.19L443.23,132.49L433.62,132.49Z" fill="none" stroke="#0f0" stroke-width="1.6"/>
<path d="M442.70,141.50L447.50,149.80L437.90,149.80Z" fill="none" stroke="#0f0" stroke-width="1.6"/>
<path d="M446.98,155.35L451.78,163.65L442.18,163.65Z" fill="none" stroke="#0f0" stroke-width="1.6"/>
<path d="M451.25,169.20L456.05,177.50L446.45,177.50Z" fill="none" stroke="#0f0" stroke-width="1.6"/>
<path d="M455.53,179.59L460.33,187.89L450.73,187.89Z" fill="none" stroke="#0f0" stroke-width="1.6"/>
<path d="M459.80,196.90L464.60,205.20L455.00,205.20Z" fill="none" stroke="#0f0" stroke-width="1.6"/>
<path d="M464.08,214.21L468.88,222.51L459.28,222.51Z" fill="none" stroke="#0f0" stroke-width="1.6"/>
<path d="M468.35,221.14L473.15,229.44L463.55,229.44Z" fill="none" stroke="#0f0" stroke-width="1.6"/>
<path d="M472.62,228.06L477.43,236.36L467.82,236.36Z" fill="none" stroke="#0f0" stroke-width="1.6"/>
<path d="M476.90,234.99L481.70,243.29L472.10,243.29Z" fill="none" stroke="#0f0" stroke-width="1.6"/>
<path d="M481.17,234.99L485.97,243.29L476.37,243.29Z" fill="none" stroke="#0f0" stroke-width="1.6"/>
<path d="M485.45,238.45L490.25,246.75L480.65,246.75Z" fill="none" stroke="#0f0" stroke-width="1.6"/>
<path d="M489.72,241.91L494.52,250.21L484.92,250.21Z" fill="none" stroke="#0f0" stroke-width="1.6"/>
<path d="M494.00,241.91L498.80,250.21L489.20,250.21Z" fill="none" stroke="#0f0" stroke-width="1.6"/>
<path d="M498.27,245.38L503.07,253.68L493.47,253.68Z" fill="none" stroke="#0f0" stroke-width="1.6"/>
<path d="M502.55,245.38L507.35,253.68L497.75,253.68Z" fill="none" stroke="#0f0" stroke-width="1.6"/>
<path d="M506.82,248.84L511.62,257.14L502.02,257.14Z" fill="none" stroke="#0f0" stroke-width="1.6"/>
<path d="M511.10,248.84L515.90,257.14L506.30,257.14Z" fill="none" stroke="#0f0" stroke-width="1.6"/>
<path d="M515.37,252.30L520.17,260.60L510.57,260.60Z" fill="none" stroke="#0f0" stroke-width="1.6"/>
<path d="M519.65,252.30L524.45,260.60L514.85,260.60Z" fill="none" stroke="#0f0" stroke-width="1.6"/>
<path d="M523.92,255.76L528.72,264.06L519.12,264.06Z" fill="none" stroke="#0f0" stroke-width="1.6"/>
<path d="M528.20,255.76L533.00,264.06L523.40,264.06Z" fill="none" stroke="#0f0" stroke-width="1.6"/>
<path d="M532.47,259.23L537.27,267.53L527.67,267.53Z" fill="none" stroke="#0f0" stroke-width="1.6"/>
<path d="M536.75,259.23L541.55,267.53L531.95,267.53Z" fill="none" stroke="#0f0" stroke-width="1.6"/>
<path d="M541.02,259.23L545.82,267.53L536.22,267.53Z" fill="none" stroke="#0f0" stroke-width="1.6"/>
<path d="M545.30,262.69L550.10,270.99L540.50,270.99Z" fill="none" stroke="#0f0" stroke-width="1.6"/>
<path d="M549.57,262.69L554.37,270.99L544.77,270.99Z" fill="none" stroke="#0f0" stroke-width="1.6"/>
<path d="M553.85,262.69L558.65,270.99L549.05,270.99Z" fill="none" stroke="#0f0" stroke-width="1.6"/>
<path d="M558.12,262.69L562.92,270.99L553.32,270.99Z" fill="none" stroke="#0f0" stroke-width="1.6"/>
<path d="M562.40,262.69L567.20,270.99L557.60,270.99Z" fill="none" stroke="#0f0" stroke-width="1.6"/>
<path d="M566.67,266.15L571.47,274.45L561.87,274.45Z" fill="none" stroke="#0f0" stroke-width="1.6"/>
<path d="M570.95,266.15L575.75,274.45L566.15,274.45Z" fill="none" stroke="#0f0" stroke-width="1.6"/>
<path d="M575.22,266.15L580.02,274.45L570.42,274.45Z" fill="none" stroke="#0f0" stroke-width="1.6"/>
<path d="M579.50,269.61L584.30,277.91L574.70,277.91Z" fill="none" stroke="#0f0" stroke-width="1.6"/>
<path d="M583.77,269.61L588.57,277.91L578.97,277.91Z" fill="none" stroke="#0f0" stroke-width="1.6"/>
<path d="M588.05,269.61L592.85,277.91L583.25,277.91Z" fill="none" stroke="#0f0" stroke-width="1.6"/>
<path d="M592.32,269.61L597.12,277.91L587.52,277.91Z" fill="none" stroke="#0f0" stroke-width="1.6"/>
<path d="M596.60,269.61L601.40,277.91L591.80,277.91Z" fill="none" stroke="#0f0" stroke-width="1.6"/>
<path d="M600.87,269.61L605.67,277.91L596.07,277.91Z" fill="none" stroke="#0f0" stroke-width="1.6"/>
<path d="M605.15,269.61L609.95,277.91L600.35,277.91Z" fill="none" stroke="#0f0" stroke-width="1.6"/>
<path d="M609.42,269.61L614.22,277.91L604.62,277.91Z" fill="none" stroke="#0f0" stroke-width="1.6"/>
<path d="M613.70,269.61L618.50,277.91L608.90,277.91Z" fill="none" stroke="#0f0" stroke-width="1.6"/>
<path d="M617.97,269.61L622.77,277.91L613.17,277.91Z" fill="none" stroke="#0f0" stroke-width="1.6"/>
<path d="M622.25,269.61L627.05,277.91L617.45,277.91Z" fill="none" stroke="#0f0" stroke-width="1.6"/>
<path d="M626.52,269.61L631.32,277.91L621.72,277.91Z" fill="none" stroke="#0f0" stroke-width="1.6"/>
<path d="M630.80,269.61L635.60,277.91L626.00,277.91Z" fill="none" stroke="#0f0" stroke-width="1.6"/>
<path d="M635.07,269.61L639.87,277.91L630.27,277.91Z" fill="none" stroke="#0f0" stroke-width="1.6"/>
<path d="M639.35,273.07L644.15,281.38L634.55,281.38Z" fill="none" stroke="#0f0" stroke-width="1.6"/>
<path d="M643.62,276.54L648.42,284.84L638.82,284.84Z" fill="none" stroke="#0f0" stroke-width="1.6"/>
<path d="M416.40,38.24L421.20,29.94L411.60,29.94Z" fill="none" stroke="#00f" stroke-width="1.6"/>
<path d="M420.62,62.47L425.42,54.17L415.82,54.17Z" fill="none" stroke="#00f" stroke-width="1.6"/>
<path d="M424.85,72.86L429.65,64.56L420.05,64.56Z" fill="none" stroke="#00f" stroke-width="1.6"/>
<path d="M429.07,107.49L433.87,99.19L424.27,99.19Z" fill="none" stroke="#00f" stroke-width="1.6"/>
<path d="M433.29,145.57L438.09,137.27L428.49,137.27Z" fill="none" stroke="#00f" stroke-width="1.6"/>
<path d="M437.51,166.35L442.31,158.05L432.71,158.05Z" fill="none" stroke="#00f" stroke-width="1.6"/>
<path d="M441.74,183.66L446.54,175.36L436.94,175.36Z" fill="none" stroke="#00f" stroke-width="1.6"/>
<path d="M445.96,194.05L450.76,185.75L441.16,185.75Z" fill="none" stroke="#00f" stroke-width="1.6"/>
<path d="M450.18,200.97L454.98,192.67L445.38,192.67Z" fill="none" stroke="#00f" stroke-width="1.6"/>
<path d="M454.41,207.90L459.21,199.60L449.61,199.60Z" fill="none" stroke="#00f" stroke-width="1.6"/>
<path d="M458.63,214.82L463.43,206.52L453.83,206.52Z" fill="none" stroke="#00f" stroke-width="1.6"/>
<path d="M462.85,221.75L467.65,213.45L458.05,213.45Z" fill="none" stroke="#00f" stroke-width="1.6"/>
<path d="M467.08,225.21L471.88,216.91L462.28,216.91Z" fill="none" stroke="#00f" stroke-width="1.6"/>
<path d="M471.30,228.68L476.10,220.38L466.50,220.38Z" fill="none" stroke="#00f" stroke-width="1.6"/>
<path d="M475.52,232.14L480.32,223.84L470.72,223.84Z" fill="none" stroke="#00f" stroke-width="1.6"/>
<path d="M479.75,235.60L484.55,227.30L474.94,227.30Z" fill="none" stroke="#00f" stroke-width="1.6"/>
<path d="M483.97,239.06L488.77,230.76L479.17,230.76Z" fill="none" stroke="#00f" stroke-width="1.6"/>
<path d="M488.19,242.53L492.99,234.22L483.39,234.22Z" fill="none" stroke="#00f" stroke-width="1.6"/>
<path d="M492.41,245.99L497.21,237.69L487.61,237.69Z" fill="none" stroke="#00f" stroke-width="1.6"/>
<path d="M496.64,245.99L501.44,237.69L491.84,237.69Z" fill="none" stroke="#00f" stroke-width="1.6"/>
<path d="M500.86,249.45L505.66,241.15L496.06,241.15Z" fill="none" stroke="#00f" stroke-width="1.6"/>
<path d="M505.08,252.91L509.88,244.61L500.28,244.61Z" fill="none" stroke="#00f" stroke-width="1.6"/>
<path d="M509.31,256.38L514.11,248.07L504.51,248.07Z" fill="none" stroke="#00f" stroke-width="1.6"/>
<path d="M513.53,256.38L518.33,248.07L508.73,248.07Z" fill="none" stroke="#00f" stroke-width="1.6"/>
<path d="M517.75,259.84L522.55,251.54L512.95,251.54Z" fill="none" stroke="#00f" stroke-width="1.6"/>
<path d="M521.98,259.84L526.77,251.54L517.18,251.54Z" fill="none" stroke="#00f" stroke-width="1.6"/>
<path d="M526.20,263.30L531.00,255.00L521.40,255.00Z" fill="none" stroke="#00f" stroke-width="1.6"/>
<path d="M530.42,266.76L535.22,258.46L525.62,258.46Z" fill="none" stroke="#00f" stroke-width="1.6"/>
<path d="M534.64,266.76L539.44,258.46L529.84,258.46Z" fill="none" stroke="#00f" stroke-width="1.6"/>
<path d="M538.87,270.23L543.67,261.93L534.07,261.93Z" fill="none" stroke="#00f" stroke-width="1.6"/>
<path d="M543.09,270.23L547.89,261.93L538.29,261.93Z" fill="none" stroke="#00f" stroke-width="1.6"/>
<path d="M547.31,270.23L552.11,261.93L542.51,261.93Z" fill="none" stroke="#00f" stroke-width="1.6"/>
<path d="M551.54,273.69L556.34,265.39L546.74,265.39Z" fill="none" stroke="#00f" stroke-width="1.6"/>
<path d="M555.76,273.69L560.56,265.39L550.96,265.39Z" fill="none" stroke="#00f" stroke-width="1.6"/>
<path d="M559.98,273.69L564.78,265.39L555.18,265.39Z" fill="none" stroke="#00f" stroke-width="1.6"/>
<path d="M564.20,273.69L569.00,265.39L559.40,265.39Z" fill="none" stroke="#00f" stroke-width="1.6"/>
<path d="M568.43,277.15L573.23,268.85L563.63,268.85Z" fill="none" stroke="#00f" stroke-width="1.6"/>
<path d="M572.65,277.15L577.45,268.85L567.85,268.85Z" fill="none" stroke="#00f" stroke-width="1.6"/>
<path d="M576.87,280.61L581.67,272.31L572.07,272.31Z" fill="none" stroke="#00f" stroke-width="1.6"/>
<path d="M581.10,280.61L585.90,272.31L576.30,272.31Z" fill="none" stroke="#00f" stroke-width="1.6"/>
<path d="M585.32,280.61L590.12,272.31L580.52,272.31Z" fill="none" stroke="#00f" stroke-width="1.6"/>
<path d="M589.54,280.61L594.34,272.31L584.74,272.31Z" fill="none" stroke="#00f" stroke-width="1.6"/>
<path d="M593.77,280.61L598.57,272.31L588.97,272.31Z" fill="none" stroke="#00f" stroke-width="1.6"/>
<path d="M597.99,280.61L602.79,272.31L593.19,272.31Z" fill="none" stroke="#00f" stroke-width="1.6"/>
<path d="M602.21,280.61L607.01,272.31L597.41,272.31Z" fill="none" stroke="#00f" stroke-width="1.6"/>
<path d="M606.43,280.61L611.23,272.31L601.63,272.31Z" fill="none" stroke="#00f" stroke-width="1.6"/>
<path d="M610.66,280.61L615.46,272.31L605.86,272.31Z" fill="none" stroke="#00f" stroke-width="1.6"/>
<path d="M614.88,280.61L619.68,272.31L610.08,272.31Z" fill="none" stroke="#00f" stroke-width="1.6"/>
<path d="M619.10,280.61L623.90,272.31L614.30,272.31Z" fill="none" stroke="#00f" stroke-width="1.6"/>
<path d="M623.33,280.61L628.13,272.31L618.53,272.31Z" fill="none" stroke="#00f" stroke-width="1.6"/>
<path d="M627.55,280.61L632.35,272.31L622.75,272.31Z" fill="none" stroke="#00f" stroke-width="1.6"/>
<path d="M631.77,280.61L636.57,272.31L626.97,272.31Z" fill="none" stroke="#00f" stroke-width="1.6"/>
<path d="M636.00,287.54L640.80,279.24L631.20,279.24Z" fill="none" stroke="#00f" stroke-width="1.6"/>
<path d="M418.70,27.84L423.60,32.74L418.70,37.64L413.80,32.74Z" fill="none" stroke="#f0f" stroke-width="1.6"/>
<path d="M422.47,38.23L427.37,43.12L422.47,48.02L417.57,43.12Z" fill="none" stroke="#f0f" stroke-width="1.6"/>
<path d="M426.24,65.92L431.14,70.82L426.24,75.72L421.34,70.82Z" fill="none" stroke="#f0f" stroke-width="1.6"/>
<path d="M430.01,86.70L434.91,91.60L430.01,96.50L425.11,91.60Z" fill="none" stroke="#f0f" stroke-width="1.6"/>
<path d="M433.78,100.55L438.68,105.45L433.78,110.35L428.88,105.45Z" fill="none" stroke="#f0f" stroke-width="1.6"/>
<path d="M437.55,110.94L442.45,115.84L437.55,120.74L432.65,115.84Z" fill="none" stroke="#f0f" stroke-width="1.6"/>
<path d="M441.32,117.86L446.22,122.76L441.32,127.66L436.42,122.76Z" fill="none" stroke="#f0f" stroke-width="1.6"/>
<path d="M445.09,128.25L449.99,133.15L445.09,138.05L440.19,133.15Z" fill="none" stroke="#f0f" stroke-width="1.6"/>
<path d="M448.86,135.17L453.76,140.07L448.86,144.97L443.96,140.07Z" fill="none" stroke="#f0f" stroke-width="1.6"/>
<path d="M452.63,142.10L457.53,147.00L452.63,151.90L447.73,147.00Z" fill="none" stroke="#f0f" stroke-width="1.6"/>
<path d="M456.40,152.49L461.30,157.39L456.40,162.29L451.50,157.39Z" fill="none" stroke="#f0f" stroke-width="1.6"/>
<path d="M460.17,159.41L465.07,164.31L460.17,169.21L455.27,164.31Z" fill="none" stroke="#f0f" stroke-width="1.6"/>
<path d="M463.94,166.34L468.84,171.24L463.94,176.14L459.04,171.24Z" fill="none" stroke="#f0f" stroke-width="1.6"/>
<path d="M467.71,173.26L472.61,178.16L467.71,183.06L462.81,178.16Z" fill="none" stroke="#f0f" stroke-width="1.6"/>
<path d="M471.48,176.72L476.38,181.62L471.48,186.53L466.58,181.62Z" fill="none" stroke="#f0f" stroke-width="1.6"/>
<path d="M475.25,176.72L480.15,181.62L475.25,186.53L470.35,181.62Z" fill="none" stroke="#f0f" stroke-width="1.6"/>
<path d="M479.02,183.65L483.92,188.55L479.02,193.45L474.12,188.55Z" fill="none" stroke="#f0f" stroke-width="1.6"/>
<path d="M482.79,194.04L487.69,198.94L482.79,203.84L477.89,198.94Z" fill="none" stroke="#f0f" stroke-width="1.6"/>
<path d="M486.56,200.96L491.46,205.86L486.56,210.76L481.66,205.86Z" fill="none" stroke="#f0f" stroke-width="1.6"/>
<path d="M490.33,207.89L495.23,212.79L490.33,217.69L485.43,212.79Z" fill="none" stroke="#f0f" stroke-width="1.6"/>
<path d="M494.10,214.81L499.00,219.71L494.10,224.61L489.20,219.71Z" fill="none" stroke="#f0f" stroke-width="1.6"/>
<path d="M497.87,221.74L502.77,226.64L497.87,231.54L492.97,226.64Z" fill="none" stroke="#f0f" stroke-width="1.6"/>
<path d="M501.64,225.20L506.54,230.10L501.64,235.00L496.74,230.10Z" fill="none" stroke="#f0f" stroke-width="1.6"/>
<path d="M505.41,232.12L510.31,237.03L505.41,241.93L500.51,237.03Z" fill="none" stroke="#f0f" stroke-width="1.6"/>
<path d="M509.18,232.12L514.08,237.03L509.18,241.93L504.28,237.03Z" fill="none" stroke="#f0f" stroke-width="1.6"/>
<path d="M512.95,235.59L517.85,240.49L512.95,245.39L508.05,240.49Z" fill="none" stroke="#f0f" stroke-width="1.6"/>
<path d="M516.72,239.05L521.62,243.95L516.72,248.85L511.82,243.95Z" fill="none" stroke="#f0f" stroke-width="1.6"/>
<path d="M520.49,242.51L525.39,247.41L520.49,252.31L515.59,247.41Z" fill="none" stroke="#f0f" stroke-width="1.6"/>
<path d="M524.26,245.97L529.16,250.88L524.26,255.78L519.36,250.88Z" fill="none" stroke="#f0f" stroke-width="1.6"/>
<path d="M528.03,245.97L532.93,250.88L528.03,255.78L523.13,250.88Z" fill="none" stroke="#f0f" stroke-width="1.6"/>
<path d="M531.80,249.44L536.70,254.34L531.80,259.24L526.90,254.34Z" fill="none" stroke="#f0f" stroke-width="1.6"/>
<path d="M535.57,252.90L540.47,257.80L535.57,262.70L530.67,257.80Z" fill="none" stroke="#f0f" stroke-width="1.6"/>
<path d="M539.34,252.90L544.24,257.80L539.34,262.70L534.44,257.80Z" fill="none" stroke="#f0f" stroke-width="1.6"/>
<path d="M543.11,256.36L548.01,261.26L543.11,266.16L538.21,261.26Z" fill="none" stroke="#f0f" stroke-width="1.6"/>
<path d="M546.88,256.36L551.78,261.26L546.88,266.16L541.98,261.26Z" fill="none" stroke="#f0f" stroke-width="1.6"/>
<path d="M550.65,259.83L555.55,264.73L550.65,269.62L545.75,264.73Z" fill="none" stroke="#f0f" stroke-width="1.6"/>
<path d="M554.42,259.83L559.32,264.73L554.42,269.62L549.52,264.73Z" fill="none" stroke="#f0f" stroke-width="1.6"/>
<path d="M558.19,263.29L563.09,268.19L558.19,273.09L553.29,268.19Z" fill="none" stroke="#f0f" stroke-width="1.6"/>
<path d="M561.96,263.29L566.86,268.19L561.96,273.09L557.06,268.19Z" fill="none" stroke="#f0f" stroke-width="1.6"/>
<path d="M565.73,263.29L570.63,268.19L565.73,273.09L560.83,268.19Z" fill="none" stroke="#f0f" stroke-width="1.6"/>
<path d="M569.50,263.29L574.40,268.19L569.50,273.09L564.60,268.19Z" fill="none" stroke="#f0f" stroke-width="1.6"/>
<path d="M573.27,263.29L578.17,268.19L573.27,273.09L568.37,268.19Z" fill="none" stroke="#f0f" stroke-width="1.6"/>
<path d="M577.04,263.29L581.94,268.19L577.04,273.09L572.14,268.19Z" fill="none" stroke="#f0f" stroke-width="1.6"/>
<path d="M580.81,270.21L585.71,275.11L580.81,280.01L575.91,275.11Z" fill="none" stroke="#f0f" stroke-width="1.6"/>
<path d="M584.58,270.21L589.48,275.11L584.58,280.01L579.68,275.11Z" fill="none" stroke="#f0f" stroke-width="1.6"/>
<path d="M588.35,270.21L593.25,275.11L588.35,280.01L583.45,275.11Z" fill="none" stroke="#f0f" stroke-width="1.6"/>
<path d="M592.12,270.21L597.02,275.11L592.12,280.01L587.22,275.11Z" fill="none" stroke="#f0f" stroke-width="1.6"/>
<path d="M595.89,270.21L600.79,275.11L595.89,280.01L590.99,275.11Z" fill="none" stroke="#f0f" stroke-width="1.6"/>
<path d="M599.66,270.21L604.56,275.11L599.66,280.01L594.76,275.11Z" fill="none" stroke="#f0f" stroke-width="1.6"/>
<path d="M603.43,270.21L608.33,275.11L603.43,280.01L598.53,275.11Z" fill="none" stroke="#f0f" stroke-width="1.6"/>
<path d="M607.20,270.21L612.10,275.11L607.20,280.01L602.30,275.11Z" fill="none" stroke="#f0f" stroke-width="1.6"/>
<path d="M610.97,270.21L615.87,275.11L610.97,280.01L606.07,275.11Z" fill="none" stroke="#f0f" stroke-width="1.6"/>
<path d="M614.74,270.21L619.64,275.11L614.74,280.01L609.84,275.11Z" fill="none" stroke="#f0f" stroke-width="1.6"/>
<path d="M618.51,270.21L623.41,275.11L618.51,280.01L613.61,275.11Z" fill="none" stroke="#f0f" stroke-width="1.6"/>
<path d="M622.28,270.21L627.18,275.11L622.28,280.01L617.38,275.11Z" fill="none" stroke="#f0f" stroke-width="1.6"/>
<path d="M626.05,270.21L630.95,275.11L626.05,280.01L621.15,275.11Z" fill="none" stroke="#f0f" stroke-width="1.6"/>
<path d="M629.82,277.14L634.72,282.04L629.82,286.94L624.92,282.04Z" fill="none" stroke="#f0f" stroke-width="1.6"/>
<rect x="536.0" y="89.5" width="105.0" height="104.5" fill="#fff" stroke="none"/>
<line x1="536.00" y1="194.00" x2="541.00" y2="194.00" stroke="#000" stroke-width="1.0" />
<line x1="641.00" y1="194.00" x2="636.00" y2="194.00" stroke="#000" stroke-width="1.0" />
<text x="527.80" y="199.00" font-size="14" text-anchor="end" fill="#000" >0</text>
<line x1="536.00" y1="167.88" x2="541.00" y2="167.88" stroke="#000" stroke-width="1.0" />
<line x1="641.00" y1="167.88" x2="636.00" y2="167.88" stroke="#000" stroke-width="1.0" />
<text x="527.80" y="172.88" font-size="14" text-anchor="end" fill="#000" textLength="16.6" lengthAdjust="spacingAndGlyphs">20</text>
<line x1="536.00" y1="141.75" x2="541.00" y2="141.75" stroke="#000" stroke-width="1.0" />
<line x1="641.00" y1="141.75" x2="636.00" y2="141.75" stroke="#000" stroke-width="1.0" />
<text x="527.80" y="146.75" font-size="14" text-anchor="end" fill="#000" textLength="16.6" lengthAdjust="spacingAndGlyphs">40</text>
<line x1="536.00" y1="115.62" x2="541.00" y2="115.62" stroke="#000" stroke-width="1.0" />
<line x1="641.00" y1="115.62" x2="636.00" y2="115.62" stroke="#000" stroke-width="1.0" />
<text x="527.80" y="120.62" font-size="14" text-anchor="end" fill="#000" textLength="16.6" lengthAdjust="spacingAndGlyphs">60</text>
<line x1="536.00" y1="89.50" x2="541.00" y2="89.50" stroke="#000" stroke-width="1.0" />
<line x1="641.00" y1="89.50" x2="636.00" y2="89.50" stroke="#000" stroke-width="1.0" />
<text x="527.80" y="94.50" font-size="14" text-anchor="end" fill="#000" textLength="16.6" lengthAdjust="spacingAndGlyphs">80</text>
<line x1="536.00" y1="194.00" x2="536.00" y2="189.00" stroke="#000" stroke-width="1.0" />
<line x1="536.00" y1="89.50" x2="536.00" y2="94.50" stroke="#000" stroke-width="1.0" />
<line x1="588.50" y1="194.00" x2="588.50" y2="189.00" stroke="#000" stroke-width="1.0" />
<line x1="588.50" y1="89.50" x2="588.50" y2="94.50" stroke="#000" stroke-width="1.0" />
<line x1="641.00" y1="194.00" x2="641.00" y2="189.00" stroke="#000" stroke-width="1.0" />
<line x1="641.00" y1="89.50" x2="641.00" y2="94.50" stroke="#000" stroke-width="1.0" />
<text x="536.50" y="213.20" font-size="14" text-anchor="middle" fill="#000" >0·10<tspan font-size="10" dy="-4.2">0</tspan></text>
<text x="588.80" y="213.20" font-size="14" text-anchor="middle" fill="#000" textLength="39" lengthAdjust="spacingAndGlyphs">5·10<tspan font-size="10" dy="-4.2">-4</tspan></text>
<text x="641.30" y="213.20" font-size="14" text-anchor="middle" fill="#000" textLength="38" lengthAdjust="spacingAndGlyphs">1·10<tspan font-size="10" dy="-4.2">-3</tspan></text>
<circle cx="596.55" cy="99.95" r="4.9" fill="none" stroke="#f00" stroke-width="1.5"/>
<circle cx="597.29" cy="110.40" r="4.9" fill="none" stroke="#f00" stroke-width="1.5"/>
<circle cx="598.04" cy="114.32" r="4.9" fill="none" stroke="#f00" stroke-width="1.5"/>
<circle cx="598.78" cy="118.24" r="4.9" fill="none" stroke="#f00" stroke-width="1.5"/>
<circle cx="599.53" cy="120.85" r="4.9" fill="none" stroke="#f00" stroke-width="1.5"/>
<circle cx="600.27" cy="122.16" r="4.9" fill="none" stroke="#f00" stroke-width="1.5"/>
<circle cx="601.02" cy="123.46" r="4.9" fill="none" stroke="#f00" stroke-width="1.5"/>
<circle cx="601.76" cy="126.08" r="4.9" fill="none" stroke="#f00" stroke-width="1.5"/>
<circle cx="602.51" cy="127.38" r="4.9" fill="none" stroke="#f00" stroke-width="1.5"/>
<circle cx="603.25" cy="128.69" r="4.9" fill="none" stroke="#f00" stroke-width="1.5"/>
<circle cx="604.00" cy="131.30" r="4.9" fill="none" stroke="#f00" stroke-width="1.5"/>
<circle cx="604.75" cy="135.22" r="4.9" fill="none" stroke="#f00" stroke-width="1.5"/>
<circle cx="605.49" cy="136.53" r="4.9" fill="none" stroke="#f00" stroke-width="1.5"/>
<circle cx="606.24" cy="143.06" r="4.9" fill="none" stroke="#f00" stroke-width="1.5"/>
<circle cx="606.98" cy="152.20" r="4.9" fill="none" stroke="#f00" stroke-width="1.5"/>
<circle cx="607.73" cy="153.51" r="4.9" fill="none" stroke="#f00" stroke-width="1.5"/>
<circle cx="608.47" cy="157.43" r="4.9" fill="none" stroke="#f00" stroke-width="1.5"/>
<circle cx="609.22" cy="161.34" r="4.9" fill="none" stroke="#f00" stroke-width="1.5"/>
<circle cx="609.96" cy="163.96" r="4.9" fill="none" stroke="#f00" stroke-width="1.5"/>
<circle cx="610.71" cy="166.57" r="4.9" fill="none" stroke="#f00" stroke-width="1.5"/>
<circle cx="611.45" cy="167.88" r="4.9" fill="none" stroke="#f00" stroke-width="1.5"/>
<circle cx="612.20" cy="169.18" r="4.9" fill="none" stroke="#f00" stroke-width="1.5"/>
<circle cx="612.94" cy="171.79" r="4.9" fill="none" stroke="#f00" stroke-width="1.5"/>
<circle cx="613.69" cy="173.10" r="4.9" fill="none" stroke="#f00" stroke-width="1.5"/>
<circle cx="614.43" cy="175.71" r="4.9" fill="none" stroke="#f00" stroke-width="1.5"/>
<circle cx="615.18" cy="175.71" r="4.9" fill="none" stroke="#f00" stroke-width="1.5"/>
<circle cx="615.92" cy="177.02" r="4.9" fill="none" stroke="#f00" stroke-width="1.5"/>
<circle cx="616.67" cy="178.32" r="4.9" fill="none" stroke="#f00" stroke-width="1.5"/>
<circle cx="617.41" cy="179.63" r="4.9" fill="none" stroke="#f00" stroke-width="1.5"/>
<circle cx="618.16" cy="180.94" r="4.9" fill="none" stroke="#f00" stroke-width="1.5"/>
<circle cx="618.90" cy="182.24" r="4.9" fill="none" stroke="#f00" stroke-width="1.5"/>
<circle cx="619.65" cy="182.24" r="4.9" fill="none" stroke="#f00" stroke-width="1.5"/>
<circle cx="620.40" cy="183.55" r="4.9" fill="none" stroke="#f00" stroke-width="1.5"/>
<circle cx="621.14" cy="184.86" r="4.9" fill="none" stroke="#f00" stroke-width="1.5"/>
<circle cx="621.89" cy="186.16" r="4.9" fill="none" stroke="#f00" stroke-width="1.5"/>
<circle cx="622.63" cy="187.47" r="4.9" fill="none" stroke="#f00" stroke-width="1.5"/>
<circle cx="623.38" cy="188.78" r="4.9" fill="none" stroke="#f00" stroke-width="1.5"/>
<circle cx="624.12" cy="188.78" r="4.9" fill="none" stroke="#f00" stroke-width="1.5"/>
<circle cx="624.87" cy="187.47" r="4.9" fill="none" stroke="#f00" stroke-width="1.5"/>
<circle cx="625.61" cy="188.78" r="4.9" fill="none" stroke="#f00" stroke-width="1.5"/>
<circle cx="626.36" cy="190.08" r="4.9" fill="none" stroke="#f00" stroke-width="1.5"/>
<circle cx="627.10" cy="190.08" r="4.9" fill="none" stroke="#f00" stroke-width="1.5"/>
<circle cx="627.85" cy="190.08" r="4.9" fill="none" stroke="#f00" stroke-width="1.5"/>
<circle cx="628.59" cy="190.08" r="4.9" fill="none" stroke="#f00" stroke-width="1.5"/>
<circle cx="629.34" cy="190.08" r="4.9" fill="none" stroke="#f00" stroke-width="1.5"/>
<circle cx="630.08" cy="190.08" r="4.9" fill="none" stroke="#f00" stroke-width="1.5"/>
<circle cx="630.83" cy="190.08" r="4.9" fill="none" stroke="#f00" stroke-width="1.5"/>
<circle cx="631.57" cy="190.08" r="4.9" fill="none" stroke="#f00" stroke-width="1.5"/>
<circle cx="632.32" cy="190.08" r="4.9" fill="none" stroke="#f00" stroke-width="1.5"/>
<circle cx="633.06" cy="190.08" r="4.9" fill="none" stroke="#f00" stroke-width="1.5"/>
<circle cx="633.81" cy="190.08" r="4.9" fill="none" stroke="#f00" stroke-width="1.5"/>
<circle cx="634.55" cy="190.08" r="4.9" fill="none" stroke="#f00" stroke-width="1.5"/>
<circle cx="635.30" cy="190.08" r="4.9" fill="none" stroke="#f00" stroke-width="1.5"/>
<circle cx="636.05" cy="191.39" r="4.9" fill="none" stroke="#f00" stroke-width="1.5"/>
<circle cx="636.79" cy="192.69" r="4.9" fill="none" stroke="#f00" stroke-width="1.5"/>
<path d="M571.77,93.14L576.57,101.44L566.97,101.44Z" fill="none" stroke="#0f0" stroke-width="1.6"/>
<path d="M572.16,99.67L576.96,107.97L567.36,107.97Z" fill="none" stroke="#0f0" stroke-width="1.6"/>
<path d="M572.56,119.27L577.36,127.57L567.76,127.57Z" fill="none" stroke="#0f0" stroke-width="1.6"/>
<path d="M572.95,129.72L577.75,138.02L568.15,138.02Z" fill="none" stroke="#0f0" stroke-width="1.6"/>
<path d="M573.35,136.25L578.15,144.55L568.55,144.55Z" fill="none" stroke="#0f0" stroke-width="1.6"/>
<path d="M573.74,141.47L578.54,149.78L568.94,149.78Z" fill="none" stroke="#0f0" stroke-width="1.6"/>
<path d="M574.13,146.70L578.93,155.00L569.33,155.00Z" fill="none" stroke="#0f0" stroke-width="1.6"/>
<path d="M574.53,150.62L579.33,158.92L569.73,158.92Z" fill="none" stroke="#0f0" stroke-width="1.6"/>
<path d="M574.92,157.15L579.72,165.45L570.12,165.45Z" fill="none" stroke="#0f0" stroke-width="1.6"/>
<path d="M575.31,163.68L580.11,171.98L570.51,171.98Z" fill="none" stroke="#0f0" stroke-width="1.6"/>
<path d="M575.71,166.29L580.51,174.59L570.91,174.59Z" fill="none" stroke="#0f0" stroke-width="1.6"/>
<path d="M576.10,168.91L580.90,177.21L571.30,177.21Z" fill="none" stroke="#0f0" stroke-width="1.6"/>
<path d="M576.50,171.52L581.30,179.82L571.70,179.82Z" fill="none" stroke="#0f0" stroke-width="1.6"/>
<path d="M576.89,171.52L581.69,179.82L572.09,179.82Z" fill="none" stroke="#0f0" stroke-width="1.6"/>
<path d="M577.28,172.82L582.08,181.12L572.48,181.12Z" fill="none" stroke="#0f0" stroke-width="1.6"/>
<path d="M577.68,174.13L582.48,182.43L572.88,182.43Z" fill="none" stroke="#0f0" stroke-width="1.6"/>
<path d="M578.07,174.13L582.87,182.43L573.27,182.43Z" fill="none" stroke="#0f0" stroke-width="1.6"/>
<path d="M578.47,175.44L583.27,183.74L573.67,183.74Z" fill="none" stroke="#0f0" stroke-width="1.6"/>
<path d="M578.86,175.44L583.66,183.74L574.06,183.74Z" fill="none" stroke="#0f0" stroke-width="1.6"/>
<path d="M579.25,176.74L584.05,185.04L574.45,185.04Z" fill="none" stroke="#0f0" stroke-width="1.6"/>
<path d="M579.65,176.74L584.45,185.04L574.85,185.04Z" fill="none" stroke="#0f0" stroke-width="1.6"/>
<path d="M580.04,178.05L584.84,186.35L575.24,186.35Z" fill="none" stroke="#0f0" stroke-width="1.6"/>
<path d="M580.44,178.05L585.24,186.35L575.64,186.35Z" fill="none" stroke="#0f0" stroke-width="1.6"/>
<path d="M580.83,179.36L585.63,187.66L576.03,187.66Z" fill="none" stroke="#0f0" stroke-width="1.6"/>
<path d="M581.22,179.36L586.02,187.66L576.42,187.66Z" fill="none" stroke="#0f0" stroke-width="1.6"/>
<path d="M581.62,180.66L586.42,188.96L576.82,188.96Z" fill="none" stroke="#0f0" stroke-width="1.6"/>
<path d="M582.01,180.66L586.81,188.96L577.21,188.96Z" fill="none" stroke="#0f0" stroke-width="1.6"/>
<path d="M582.40,180.66L587.20,188.96L577.60,188.96Z" fill="none" stroke="#0f0" stroke-width="1.6"/>
<path d="M582.80,181.97L587.60,190.27L578.00,190.27Z" fill="none" stroke="#0f0" stroke-width="1.6"/>
<path d="M583.19,181.97L587.99,190.27L578.39,190.27Z" fill="none" stroke="#0f0" stroke-width="1.6"/>
<path d="M583.59,181.97L588.39,190.27L578.79,190.27Z" fill="none" stroke="#0f0" stroke-width="1.6"/>
<path d="M583.98,181.97L588.78,190.27L579.18,190.27Z" fill="none" stroke="#0f0" stroke-width="1.6"/>
<path d="M584.37,181.97L589.17,190.27L579.57,190.27Z" fill="none" stroke="#0f0" stroke-width="1.6"/>
<path d="M584.77,183.28L589.57,191.58L579.97,191.58Z" fill="none" stroke="#0f0" stroke-width="1.6"/>
<path d="M585.16,183.28L589.96,191.58L580.36,191.58Z" fill="none" stroke="#0f0" stroke-width="1.6"/>
<path d="M585.56,183.28L590.36,191.58L580.76,191.58Z" fill="none" stroke="#0f0" stroke-width="1.6"/>
<path d="M585.95,184.58L590.75,192.88L581.15,192.88Z" fill="none" stroke="#0f0" stroke-width="1.6"/>
<path d="M586.34,184.58L591.14,192.88L581.54,192.88Z" fill="none" stroke="#0f0" stroke-width="1.6"/>
<path d="M586.74,184.58L591.54,192.88L581.94,192.88Z" fill="none" stroke="#0f0" stroke-width="1.6"/>
<path d="M587.13,184.58L591.93,192.88L582.33,192.88Z" fill="none" stroke="#0f0" stroke-width="1.6"/>
<path d="M587.52,184.58L592.32,192.88L582.72,192.88Z" fill="none" stroke="#0f0" stroke-width="1.6"/>
<path d="M587.92,184.58L592.72,192.88L583.12,192.88Z" fill="none" stroke="#0f0" stroke-width="1.6"/>
<path d="M588.31,184.58L593.11,192.88L583.51,192.88Z" fill="none" stroke="#0f0" stroke-width="1.6"/>
<path d="M588.71,184.58L593.51,192.88L583.91,192.88Z" fill="none" stroke="#0f0" stroke-width="1.6"/>
<path d="M589.10,184.58L593.90,192.88L584.30,192.88Z" fill="none" stroke="#0f0" stroke-width="1.6"/>
<path d="M589.49,184.58L594.29,192.88L584.69,192.88Z" fill="none" stroke="#0f0" stroke-width="1.6"/>
<path d="M589.89,184.58L594.69,192.88L585.09,192.88Z" fill="none" stroke="#0f0" stroke-width="1.6"/>
<path d="M590.28,184.58L595.08,192.88L585.48,192.88Z" fill="none" stroke="#0f0" stroke-width="1.6"/>
<path d="M590.68,184.58L595.48,192.88L585.88,192.88Z" fill="none" stroke="#0f0" stroke-width="1.6"/>
<path d="M591.07,184.58L595.87,192.88L586.27,192.88Z" fill="none" stroke="#0f0" stroke-width="1.6"/>
<path d="M591.46,185.89L596.26,194.19L586.66,194.19Z" fill="none" stroke="#0f0" stroke-width="1.6"/>
<path d="M591.86,187.19L596.66,195.49L587.06,195.49Z" fill="none" stroke="#0f0" stroke-width="1.6"/>
<path d="M554.80,104.14L559.60,95.84L550.00,95.84Z" fill="none" stroke="#00f" stroke-width="1.6"/>
<path d="M555.01,113.29L559.81,104.99L550.21,104.99Z" fill="none" stroke="#00f" stroke-width="1.6"/>
<path d="M555.22,117.21L560.02,108.91L550.42,108.91Z" fill="none" stroke="#00f" stroke-width="1.6"/>
<path d="M555.43,130.27L560.23,121.97L550.63,121.97Z" fill="none" stroke="#00f" stroke-width="1.6"/>
<path d="M555.64,144.64L560.44,136.34L550.84,136.34Z" fill="none" stroke="#00f" stroke-width="1.6"/>
<path d="M555.85,152.47L560.65,144.17L551.05,144.17Z" fill="none" stroke="#00f" stroke-width="1.6"/>
<path d="M556.06,159.01L560.86,150.71L551.26,150.71Z" fill="none" stroke="#00f" stroke-width="1.6"/>
<path d="M556.27,162.93L561.07,154.62L551.47,154.62Z" fill="none" stroke="#00f" stroke-width="1.6"/>
<path d="M556.47,165.54L561.27,157.24L551.67,157.24Z" fill="none" stroke="#00f" stroke-width="1.6"/>
<path d="M556.68,168.15L561.48,159.85L551.88,159.85Z" fill="none" stroke="#00f" stroke-width="1.6"/>
<path d="M556.89,170.76L561.69,162.46L552.09,162.46Z" fill="none" stroke="#00f" stroke-width="1.6"/>
<path d="M557.10,173.38L561.90,165.07L552.30,165.07Z" fill="none" stroke="#00f" stroke-width="1.6"/>
<path d="M557.31,174.68L562.11,166.38L552.51,166.38Z" fill="none" stroke="#00f" stroke-width="1.6"/>
<path d="M557.52,175.99L562.32,167.69L552.72,167.69Z" fill="none" stroke="#00f" stroke-width="1.6"/>
<path d="M557.73,177.29L562.53,168.99L552.93,168.99Z" fill="none" stroke="#00f" stroke-width="1.6"/>
<path d="M557.94,178.60L562.74,170.30L553.14,170.30Z" fill="none" stroke="#00f" stroke-width="1.6"/>
<path d="M558.15,179.91L562.95,171.61L553.35,171.61Z" fill="none" stroke="#00f" stroke-width="1.6"/>
<path d="M558.36,181.21L563.16,172.91L553.56,172.91Z" fill="none" stroke="#00f" stroke-width="1.6"/>
<path d="M558.57,182.52L563.37,174.22L553.77,174.22Z" fill="none" stroke="#00f" stroke-width="1.6"/>
<path d="M558.78,182.52L563.58,174.22L553.98,174.22Z" fill="none" stroke="#00f" stroke-width="1.6"/>
<path d="M558.99,183.82L563.79,175.52L554.19,175.52Z" fill="none" stroke="#00f" stroke-width="1.6"/>
<path d="M559.20,185.13L564.00,176.83L554.40,176.83Z" fill="none" stroke="#00f" stroke-width="1.6"/>
<path d="M559.41,186.44L564.21,178.14L554.61,178.14Z" fill="none" stroke="#00f" stroke-width="1.6"/>
<path d="M559.62,186.44L564.42,178.14L554.82,178.14Z" fill="none" stroke="#00f" stroke-width="1.6"/>
<path d="M559.83,187.74L564.63,179.44L555.03,179.44Z" fill="none" stroke="#00f" stroke-width="1.6"/>
<path d="M560.04,187.74L564.84,179.44L555.24,179.44Z" fill="none" stroke="#00f" stroke-width="1.6"/>
<path d="M560.24,189.05L565.04,180.75L555.44,180.75Z" fill="none" stroke="#00f" stroke-width="1.6"/>
<path d="M560.45,190.36L565.25,182.06L555.65,182.06Z" fill="none" stroke="#00f" stroke-width="1.6"/>
<path d="M560.66,190.36L565.46,182.06L555.86,182.06Z" fill="none" stroke="#00f" stroke-width="1.6"/>
<path d="M560.87,191.66L565.67,183.36L556.07,183.36Z" fill="none" stroke="#00f" stroke-width="1.6"/>
<path d="M561.08,191.66L565.88,183.36L556.28,183.36Z" fill="none" stroke="#00f" stroke-width="1.6"/>
<path d="M561.29,191.66L566.09,183.36L556.49,183.36Z" fill="none" stroke="#00f" stroke-width="1.6"/>
<path d="M561.50,192.97L566.30,184.67L556.70,184.67Z" fill="none" stroke="#00f" stroke-width="1.6"/>
<path d="M561.71,192.97L566.51,184.67L556.91,184.67Z" fill="none" stroke="#00f" stroke-width="1.6"/>
<path d="M561.92,192.97L566.72,184.67L557.12,184.67Z" fill="none" stroke="#00f" stroke-width="1.6"/>
<path d="M562.13,192.97L566.93,184.67L557.33,184.67Z" fill="none" stroke="#00f" stroke-width="1.6"/>
<path d="M562.34,194.28L567.14,185.97L557.54,185.97Z" fill="none" stroke="#00f" stroke-width="1.6"/>
<path d="M562.55,194.28L567.35,185.97L557.75,185.97Z" fill="none" stroke="#00f" stroke-width="1.6"/>
<path d="M562.76,195.58L567.56,187.28L557.96,187.28Z" fill="none" stroke="#00f" stroke-width="1.6"/>
<path d="M562.97,195.58L567.77,187.28L558.17,187.28Z" fill="none" stroke="#00f" stroke-width="1.6"/>
<path d="M563.18,195.58L567.98,187.28L558.38,187.28Z" fill="none" stroke="#00f" stroke-width="1.6"/>
<path d="M563.39,195.58L568.19,187.28L558.59,187.28Z" fill="none" stroke="#00f" stroke-width="1.6"/>
<path d="M563.60,195.58L568.40,187.28L558.80,187.28Z" fill="none" stroke="#00f" stroke-width="1.6"/>
<path d="M563.81,195.58L568.61,187.28L559.01,187.28Z" fill="none" stroke="#00f" stroke-width="1.6"/>
<path d="M564.02,195.58L568.82,187.28L559.22,187.28Z" fill="none" stroke="#00f" stroke-width="1.6"/>
<path d="M564.22,195.58L569.02,187.28L559.42,187.28Z" fill="none" stroke="#00f" stroke-width="1.6"/>
<path d="M564.43,195.58L569.23,187.28L559.63,187.28Z" fill="none" stroke="#00f" stroke-width="1.6"/>
<path d="M564.64,195.58L569.44,187.28L559.84,187.28Z" fill="none" stroke="#00f" stroke-width="1.6"/>
<path d="M564.85,195.58L569.65,187.28L560.05,187.28Z" fill="none" stroke="#00f" stroke-width="1.6"/>
<path d="M565.06,195.58L569.86,187.28L560.26,187.28Z" fill="none" stroke="#00f" stroke-width="1.6"/>
<path d="M565.27,195.58L570.07,187.28L560.47,187.28Z" fill="none" stroke="#00f" stroke-width="1.6"/>
<path d="M565.48,195.58L570.28,187.28L560.68,187.28Z" fill="none" stroke="#00f" stroke-width="1.6"/>
<path d="M565.69,198.19L570.49,189.89L560.89,189.89Z" fill="none" stroke="#00f" stroke-width="1.6"/>
<path d="M546.73,93.74L551.63,98.64L546.73,103.54L541.83,98.64Z" fill="none" stroke="#f0f" stroke-width="1.6"/>
<path d="M546.84,97.66L551.74,102.56L546.84,107.46L541.94,102.56Z" fill="none" stroke="#f0f" stroke-width="1.6"/>
<path d="M546.94,108.11L551.84,113.01L546.94,117.91L542.04,113.01Z" fill="none" stroke="#f0f" stroke-width="1.6"/>
<path d="M547.05,115.95L551.95,120.85L547.05,125.75L542.15,120.85Z" fill="none" stroke="#f0f" stroke-width="1.6"/>
<path d="M547.15,121.17L552.05,126.08L547.15,130.97L542.25,126.08Z" fill="none" stroke="#f0f" stroke-width="1.6"/>
<path d="M547.26,125.09L552.16,129.99L547.26,134.89L542.36,129.99Z" fill="none" stroke="#f0f" stroke-width="1.6"/>
<path d="M547.37,127.71L552.27,132.61L547.37,137.51L542.47,132.61Z" fill="none" stroke="#f0f" stroke-width="1.6"/>
<path d="M547.47,131.62L552.37,136.53L547.47,141.43L542.57,136.53Z" fill="none" stroke="#f0f" stroke-width="1.6"/>
<path d="M547.58,134.24L552.48,139.14L547.58,144.04L542.68,139.14Z" fill="none" stroke="#f0f" stroke-width="1.6"/>
<path d="M547.69,136.85L552.59,141.75L547.69,146.65L542.79,141.75Z" fill="none" stroke="#f0f" stroke-width="1.6"/>
<path d="M547.79,140.77L552.69,145.67L547.79,150.57L542.89,145.67Z" fill="none" stroke="#f0f" stroke-width="1.6"/>
<path d="M547.90,143.38L552.80,148.28L547.90,153.18L543.00,148.28Z" fill="none" stroke="#f0f" stroke-width="1.6"/>
<path d="M548.00,145.99L552.90,150.89L548.00,155.79L543.10,150.89Z" fill="none" stroke="#f0f" stroke-width="1.6"/>
<path d="M548.11,148.61L553.01,153.51L548.11,158.41L543.21,153.51Z" fill="none" stroke="#f0f" stroke-width="1.6"/>
<path d="M548.22,149.91L553.12,154.81L548.22,159.71L543.32,154.81Z" fill="none" stroke="#f0f" stroke-width="1.6"/>
<path d="M548.32,149.91L553.22,154.81L548.32,159.71L543.42,154.81Z" fill="none" stroke="#f0f" stroke-width="1.6"/>
<path d="M548.43,152.53L553.33,157.43L548.43,162.33L543.53,157.43Z" fill="none" stroke="#f0f" stroke-width="1.6"/>
<path d="M548.53,156.44L553.43,161.34L548.53,166.24L543.63,161.34Z" fill="none" stroke="#f0f" stroke-width="1.6"/>
<path d="M548.64,159.06L553.54,163.96L548.64,168.86L543.74,163.96Z" fill="none" stroke="#f0f" stroke-width="1.6"/>
<path d="M548.75,161.67L553.65,166.57L548.75,171.47L543.85,166.57Z" fill="none" stroke="#f0f" stroke-width="1.6"/>
<path d="M548.85,164.28L553.75,169.18L548.85,174.08L543.95,169.18Z" fill="none" stroke="#f0f" stroke-width="1.6"/>
<path d="M548.96,166.89L553.86,171.79L548.96,176.69L544.06,171.79Z" fill="none" stroke="#f0f" stroke-width="1.6"/>
<path d="M549.06,168.20L553.96,173.10L549.06,178.00L544.16,173.10Z" fill="none" stroke="#f0f" stroke-width="1.6"/>
<path d="M549.17,170.81L554.07,175.71L549.17,180.61L544.27,175.71Z" fill="none" stroke="#f0f" stroke-width="1.6"/>
<path d="M549.28,170.81L554.18,175.71L549.28,180.61L544.38,175.71Z" fill="none" stroke="#f0f" stroke-width="1.6"/>
<path d="M549.38,172.12L554.28,177.02L549.38,181.92L544.48,177.02Z" fill="none" stroke="#f0f" stroke-width="1.6"/>
<path d="M549.49,173.42L554.39,178.32L549.49,183.22L544.59,178.32Z" fill="none" stroke="#f0f" stroke-width="1.6"/>
<path d="M549.59,174.73L554.49,179.63L549.59,184.53L544.69,179.63Z" fill="none" stroke="#f0f" stroke-width="1.6"/>
<path d="M549.70,176.04L554.60,180.94L549.70,185.84L544.80,180.94Z" fill="none" stroke="#f0f" stroke-width="1.6"/>
<path d="M549.81,176.04L554.71,180.94L549.81,185.84L544.91,180.94Z" fill="none" stroke="#f0f" stroke-width="1.6"/>
<path d="M549.91,177.34L554.81,182.24L549.91,187.14L545.01,182.24Z" fill="none" stroke="#f0f" stroke-width="1.6"/>
<path d="M550.02,178.65L554.92,183.55L550.02,188.45L545.12,183.55Z" fill="none" stroke="#f0f" stroke-width="1.6"/>
<path d="M550.12,178.65L555.02,183.55L550.12,188.45L545.22,183.55Z" fill="none" stroke="#f0f" stroke-width="1.6"/>
<path d="M550.23,179.96L555.13,184.86L550.23,189.76L545.33,184.86Z" fill="none" stroke="#f0f" stroke-width="1.6"/>
<path d="M550.34,179.96L555.24,184.86L550.34,189.76L545.44,184.86Z" fill="none" stroke="#f0f" stroke-width="1.6"/>
<path d="M550.44,181.26L555.34,186.16L550.44,191.06L545.54,186.16Z" fill="none" stroke="#f0f" stroke-width="1.6"/>
<path d="M550.55,181.26L555.45,186.16L550.55,191.06L545.65,186.16Z" fill="none" stroke="#f0f" stroke-width="1.6"/>
<path d="M550.66,182.57L555.56,187.47L550.66,192.37L545.76,187.47Z" fill="none" stroke="#f0f" stroke-width="1.6"/>
<path d="M550.76,182.57L555.66,187.47L550.76,192.37L545.86,187.47Z" fill="none" stroke="#f0f" stroke-width="1.6"/>
<path d="M550.87,182.57L555.77,187.47L550.87,192.37L545.97,187.47Z" fill="none" stroke="#f0f" stroke-width="1.6"/>
<path d="M550.97,182.57L555.87,187.47L550.97,192.37L546.07,187.47Z" fill="none" stroke="#f0f" stroke-width="1.6"/>
<path d="M551.08,182.57L555.98,187.47L551.08,192.37L546.18,187.47Z" fill="none" stroke="#f0f" stroke-width="1.6"/>
<path d="M551.19,182.57L556.09,187.47L551.19,192.37L546.29,187.47Z" fill="none" stroke="#f0f" stroke-width="1.6"/>
<path d="M551.29,185.18L556.19,190.08L551.29,194.98L546.39,190.08Z" fill="none" stroke="#f0f" stroke-width="1.6"/>
<path d="M551.40,185.18L556.30,190.08L551.40,194.98L546.50,190.08Z" fill="none" stroke="#f0f" stroke-width="1.6"/>
<path d="M551.50,185.18L556.40,190.08L551.50,194.98L546.60,190.08Z" fill="none" stroke="#f0f" stroke-width="1.6"/>
<path d="M551.61,185.18L556.51,190.08L551.61,194.98L546.71,190.08Z" fill="none" stroke="#f0f" stroke-width="1.6"/>
<path d="M551.72,185.18L556.62,190.08L551.72,194.98L546.82,190.08Z" fill="none" stroke="#f0f" stroke-width="1.6"/>
<path d="M551.82,185.18L556.72,190.08L551.82,194.98L546.92,190.08Z" fill="none" stroke="#f0f" stroke-width="1.6"/>
<path d="M551.93,185.18L556.83,190.08L551.93,194.98L547.03,190.08Z" fill="none" stroke="#f0f" stroke-width="1.6"/>
<path d="M552.03,185.18L556.93,190.08L552.03,194.98L547.13,190.08Z" fill="none" stroke="#f0f" stroke-width="1.6"/>
<path d="M552.14,185.18L557.04,190.08L552.14,194.98L547.24,190.08Z" fill="none" stroke="#f0f" stroke-width="1.6"/>
<path d="M552.25,185.18L557.15,190.08L552.25,194.98L547.35,190.08Z" fill="none" stroke="#f0f" stroke-width="1.6"/>
<path d="M552.35,185.18L557.25,190.08L552.35,194.98L547.45,190.08Z" fill="none" stroke="#f0f" stroke-width="1.6"/>
<path d="M552.46,185.18L557.36,190.08L552.46,194.98L547.56,190.08Z" fill="none" stroke="#f0f" stroke-width="1.6"/>
<path d="M552.56,185.18L557.46,190.08L552.56,194.98L547.66,190.08Z" fill="none" stroke="#f0f" stroke-width="1.6"/>
<path d="M552.67,187.79L557.57,192.69L552.67,197.59L547.77,192.69Z" fill="none" stroke="#f0f" stroke-width="1.6"/>
<rect x="536.0" y="89.5" width="105.0" height="104.5" fill="none" stroke="#000" stroke-width="1.0"/>
<rect x="393.5" y="8.5" width="277.0" height="277.0" fill="none" stroke="#000" stroke-width="1.15"/>
</svg></body></html>
